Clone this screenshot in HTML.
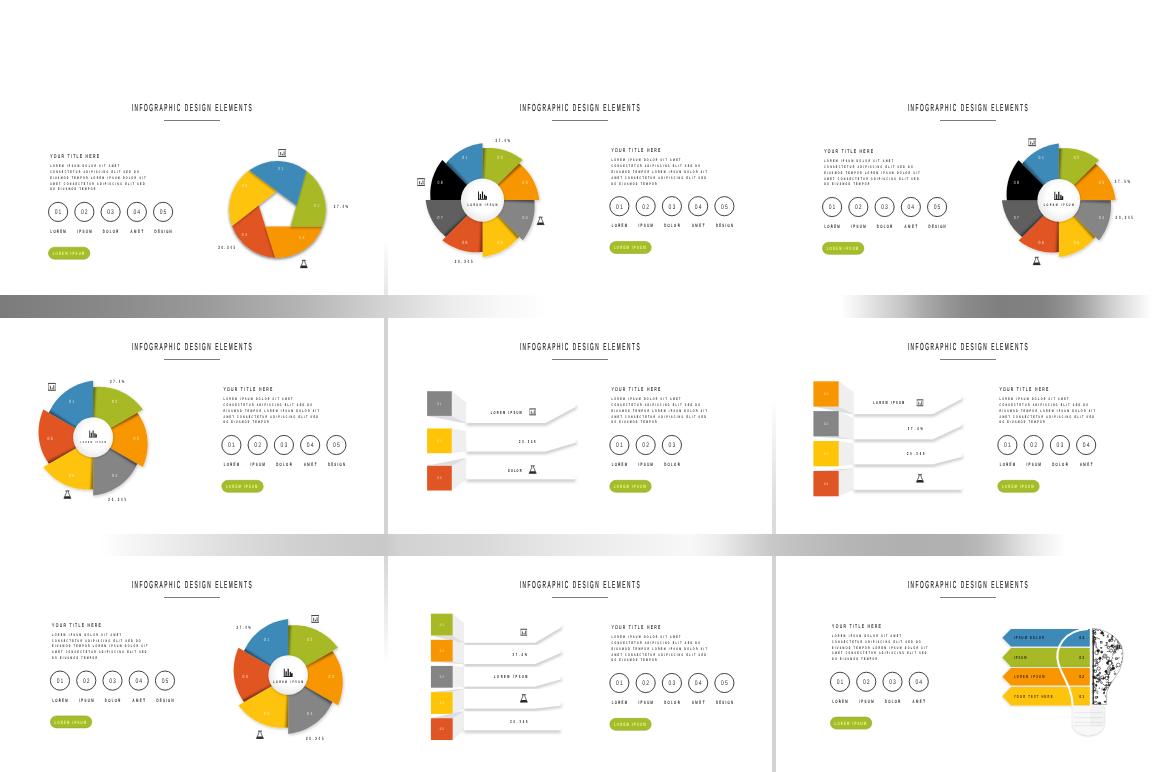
<!DOCTYPE html><html><head><meta charset="utf-8"><style>
html,body{margin:0;padding:0;background:#fff;width:1160px;height:772px;overflow:hidden;}
.band{position:absolute;left:0;width:1160px;}
.v{position:absolute;width:4px;}
svg.s{position:absolute;overflow:visible;font-family:'Liberation Sans', Arial, sans-serif;text-rendering:geometricPrecision;}
</style></head><body>
<div class="band" style="top:295px;height:23px;background:linear-gradient(90deg, #7b7b7b 0px, #888 100px, #999 200px, #b4b4b4 300px, #d4d4d4 384px, #ececec 450px, #f8f8f8 500px, #fff 550px, #fff 840px, #f0f0f0 858px, #dadada 880px, #c6c6c6 901px, #adadad 922px, #999 944px, #8a8a8a 965px, #7f7f7f 1000px, #828282 1043px, #959595 1070px, #a9a9a9 1086px, #d3d3d3 1114px, #f5f5f5 1143px, #fff 1152px)"></div>
<div class="band" style="top:534px;height:22px;background:linear-gradient(90deg, #fff 100px, #f6f6f6 130px, #ececec 170px, #e2e2e2 210px, #d9d9d9 250px, #d0d0d0 300px, #cbcbcb 350px, #c9c9c9 384px, #d2d2d2 400px, #d9d9d9 480px, #e8e8e8 560px, #f3f3f3 650px, #f8f8f8 690px, #ececec 720px, #d6d6d6 750px, #c8c8c8 772px, #c0c0c0 800px, #b5b5b5 850px, #b0b0b0 900px, #b1b1b1 960px, #b9b9b9 980px, #c9c9c9 1000px, #dedede 1020px, #efefef 1040px, #fbfbfb 1060px, #fff 1066px)"></div>
<div class="v" style="left:384px;top:238px;height:57px;background:linear-gradient(#fff,#e6e6e6)"></div>
<div class="v" style="left:384px;top:318px;height:216px;background:#d3d3d3"></div>
<div class="v" style="left:384px;top:556px;height:110px;background:linear-gradient(#d6d6d6,#fff)"></div>
<div class="v" style="left:772px;top:398px;height:136px;background:linear-gradient(#fff,#e0e0e0 70%,#dadada)"></div>
<div class="v" style="left:772px;top:556px;height:216px;background:#d3d3d3"></div>
<svg width="0" height="0" style="position:absolute"><defs>
<filter id="sh" x="-20%" y="-20%" width="140%" height="140%"><feDropShadow dx="0.8" dy="1.2" stdDeviation="1.4" flood-color="#000" flood-opacity="0.22"/></filter>
<filter id="sh2" x="-30%" y="-30%" width="160%" height="160%"><feDropShadow dx="0" dy="0.6" stdDeviation="1.2" flood-color="#000" flood-opacity="0.25"/></filter>
<filter id="sh3" x="-20%" y="-20%" width="140%" height="140%"><feDropShadow dx="-0.3" dy="1.2" stdDeviation="1.0" flood-color="#000" flood-opacity="0.38"/></filter>
<filter id="sh4" x="-20%" y="-20%" width="140%" height="140%"><feDropShadow dx="-0.8" dy="0.7" stdDeviation="1.1" flood-color="#000" flood-opacity="0.16"/></filter>
<filter id="bl1" x="-20%" y="-20%" width="140%" height="140%"><feGaussianBlur stdDeviation="0.9"/></filter>
<filter id="blur2" filterUnits="userSpaceOnUse" x="-50" y="-50" width="500" height="320"><feGaussianBlur stdDeviation="1.6"/></filter>
<radialGradient id="wg" cx="0.55" cy="0.45" r="0.6"><stop offset="0.55" stop-color="#fff"/><stop offset="1" stop-color="#e6e6e6"/></radialGradient>
</defs></svg>
<svg class="s" style="left:0px;top:79px" width="384" height="216" viewBox="0 0 384 216"><text transform="translate(191.7 32) scale(0.47 1)" font-size="10.17" fill="#1e1e1e" text-anchor="middle" font-weight="normal" textLength="255.32" lengthAdjust="spacing" stroke="#1e1e1e" stroke-width="0.22">INFOGRAPHIC DESIGN ELEMENTS</text>
<rect x="164" y="41" width="56" height="1" fill="#7a7a7a"/>
<text transform="translate(50.2 78.95) scale(0.62 1)" font-size="5.52" fill="#222" text-anchor="start" font-weight="normal" textLength="78.71" lengthAdjust="spacing" stroke="#222" stroke-width="0.1">YOUR TITLE HERE</text>
<text transform="translate(50.2 88.15) scale(0.6 1)" font-size="3.63" fill="#222" text-anchor="start" font-weight="bold" textLength="114.67" lengthAdjust="spacing">LOREM IPSUM DOLOR SIT AMET</text>
<text transform="translate(50.2 93.95) scale(0.6 1)" font-size="3.63" fill="#222" text-anchor="start" font-weight="bold" textLength="147.33" lengthAdjust="spacing">CONSECTETUR ADIPISCING ELIT SED DO</text>
<text transform="translate(50.2 99.75) scale(0.6 1)" font-size="3.63" fill="#222" text-anchor="start" font-weight="bold" textLength="158.83" lengthAdjust="spacing">EIUSMOD TEMPOR LOREM IPSUM DOLOR SIT</text>
<text transform="translate(50.2 105.55) scale(0.6 1)" font-size="3.63" fill="#222" text-anchor="start" font-weight="bold" textLength="157.17" lengthAdjust="spacing">AMET CONSECTETUR ADIPISCING ELIT SED</text>
<text transform="translate(50.2 111.35) scale(0.6 1)" font-size="3.63" fill="#222" text-anchor="start" font-weight="bold" textLength="75.17" lengthAdjust="spacing">DO EIUSMOD TEMPOR</text>
<circle cx="58.1" cy="132.9" r="9.6" fill="none" stroke="#2e2e2e" stroke-width="0.9"/>
<text transform="translate(58.1 135.2) scale(0.75 1)" font-size="6.69" fill="#333" text-anchor="middle" font-weight="normal" textLength="8.8" lengthAdjust="spacing">01</text>
<text transform="translate(58.1 154.1) scale(0.6 1)" font-size="4.65" fill="#222" text-anchor="middle" font-weight="normal" textLength="25.33" lengthAdjust="spacing" stroke="#222" stroke-width="0.15">LOREM</text>
<circle cx="84.35" cy="132.9" r="9.6" fill="none" stroke="#2e2e2e" stroke-width="0.9"/>
<text transform="translate(84.35 135.2) scale(0.75 1)" font-size="6.69" fill="#333" text-anchor="middle" font-weight="normal" textLength="8.8" lengthAdjust="spacing">02</text>
<text transform="translate(84.35 154.1) scale(0.6 1)" font-size="4.65" fill="#222" text-anchor="middle" font-weight="normal" textLength="24.17" lengthAdjust="spacing" stroke="#222" stroke-width="0.15">IPSUM</text>
<circle cx="110.6" cy="132.9" r="9.6" fill="none" stroke="#2e2e2e" stroke-width="0.9"/>
<text transform="translate(110.6 135.2) scale(0.75 1)" font-size="6.69" fill="#333" text-anchor="middle" font-weight="normal" textLength="8.8" lengthAdjust="spacing">03</text>
<text transform="translate(110.6 154.1) scale(0.6 1)" font-size="4.65" fill="#222" text-anchor="middle" font-weight="normal" textLength="25.83" lengthAdjust="spacing" stroke="#222" stroke-width="0.15">DOLOR</text>
<circle cx="136.85" cy="132.9" r="9.6" fill="none" stroke="#2e2e2e" stroke-width="0.9"/>
<text transform="translate(136.85 135.2) scale(0.75 1)" font-size="6.69" fill="#333" text-anchor="middle" font-weight="normal" textLength="8.8" lengthAdjust="spacing">04</text>
<text transform="translate(136.85 154.1) scale(0.6 1)" font-size="4.65" fill="#222" text-anchor="middle" font-weight="normal" textLength="20.83" lengthAdjust="spacing" stroke="#222" stroke-width="0.15">AMET</text>
<circle cx="163.1" cy="132.9" r="9.6" fill="none" stroke="#2e2e2e" stroke-width="0.9"/>
<text transform="translate(163.1 135.2) scale(0.75 1)" font-size="6.69" fill="#333" text-anchor="middle" font-weight="normal" textLength="8.8" lengthAdjust="spacing">05</text>
<text transform="translate(163.1 154.1) scale(0.6 1)" font-size="4.65" fill="#222" text-anchor="middle" font-weight="normal" textLength="28.33" lengthAdjust="spacing" stroke="#222" stroke-width="0.15">DESIGN</text>
<rect x="48.5" y="168.2" width="41.4" height="12" rx="6" fill="#a5bc2c" stroke="#97ab26" stroke-width="0.6"/>
<text transform="translate(68.4 175.8) scale(0.6 1)" font-size="4.65" fill="#f3fb8c" text-anchor="middle" font-weight="bold" textLength="52.5" lengthAdjust="spacing">LOREM IPSUM</text>
<g filter="url(#sh)">
<path d="M265.4 147.6 L275.27 178.65 A48.3 48.3 0 0 1 232.14 146.99 L258.6 126.2 Z" fill="#e05524" filter="url(#sh3)"/>
<path d="M290.6 147.6 L322.63 147.6 A48.3 48.3 0 0 1 275.27 178.65 L265.4 147.6 Z" fill="#f79600" filter="url(#sh3)"/>
<path d="M258.6 126.2 L232.14 146.99 A48.3 48.3 0 0 1 249.17 91.28 L276.8 111.9 Z" fill="#fec408" filter="url(#sh3)"/>
<path d="M296.5 126.6 L306.32 91.64 A48.3 48.3 0 0 1 322.63 147.6 L290.6 147.6 Z" fill="#a8b925" filter="url(#sh3)"/>
<path d="M276.8 111.9 L249.17 91.28 A48.3 48.3 0 0 1 306.32 91.64 L296.5 126.6 Z" fill="#3d8ab9" filter="url(#sh3)"/>
</g>
<text transform="translate(280.7 91) scale(0.75 1)" font-size="4.36" fill="#fff" fill-opacity="0.75" text-anchor="middle" font-weight="normal" textLength="7.2" lengthAdjust="spacing">01</text>
<text transform="translate(316.7 128.2) scale(0.75 1)" font-size="4.36" fill="#fff" fill-opacity="0.75" text-anchor="middle" font-weight="normal" textLength="7.2" lengthAdjust="spacing">02</text>
<text transform="translate(301.6 159.9) scale(0.75 1)" font-size="4.36" fill="#fff" fill-opacity="0.75" text-anchor="middle" font-weight="normal" textLength="7.2" lengthAdjust="spacing">03</text>
<text transform="translate(244.5 157.2) scale(0.75 1)" font-size="4.36" fill="#fff" fill-opacity="0.75" text-anchor="middle" font-weight="normal" textLength="7.2" lengthAdjust="spacing">04</text>
<text transform="translate(244.5 108.2) scale(0.75 1)" font-size="4.36" fill="#fff" fill-opacity="0.75" text-anchor="middle" font-weight="normal" textLength="7.2" lengthAdjust="spacing">05</text>
<text transform="translate(333.8 128.6) scale(0.6 1)" font-size="4.65" fill="#333" text-anchor="start" font-weight="bold" textLength="23.67" lengthAdjust="spacing">37.4%</text>
<text transform="translate(218.2 170) scale(0.6 1)" font-size="4.65" fill="#333" text-anchor="start" font-weight="bold" textLength="28" lengthAdjust="spacing">20.345</text>
<g transform="translate(282.2 74) scale(1)"><rect x="-3.4" y="-3.4" width="6.8" height="6.8" fill="#fff" stroke="#8a8a8a" stroke-width="0.75"/><path d="M-3.75 -3.4 H3.75 M-3.75 3.4 H3.75" stroke="#2e2e2e" stroke-width="0.8"/><path d="M-1.5 -1.0 V2.3 M0.3 0.8 V2.3 M1.9 -1.6 V2.3" stroke="#333" stroke-width="0.85" fill="none"/></g>
<g transform="translate(303.8 185) scale(1)"><path d="M-1.9 -3.7 H1.9" stroke="#2a2a2a" stroke-width="0.9"/><path d="M-1.0 -3.4 V-1.9 L-3.5 3.7 H3.5 L1.0 -1.9 V-3.4" stroke="#2a2a2a" stroke-width="0.7" fill="none" stroke-linejoin="round"/><path d="M-2.5 1.6 H2.5 L3.6 3.95 H-3.6 Z" fill="#2a2a2a"/></g></svg>
<svg class="s" style="left:388px;top:79px" width="384" height="216" viewBox="0 0 384 216"><text transform="translate(191.7 32) scale(0.47 1)" font-size="10.17" fill="#1e1e1e" text-anchor="middle" font-weight="normal" textLength="255.32" lengthAdjust="spacing" stroke="#1e1e1e" stroke-width="0.22">INFOGRAPHIC DESIGN ELEMENTS</text>
<rect x="164" y="41" width="56" height="1" fill="#7a7a7a"/>
<text transform="translate(223.5 73.25) scale(0.62 1)" font-size="5.52" fill="#222" text-anchor="start" font-weight="normal" textLength="78.71" lengthAdjust="spacing" stroke="#222" stroke-width="0.1">YOUR TITLE HERE</text>
<text transform="translate(223.5 82.45) scale(0.6 1)" font-size="3.63" fill="#222" text-anchor="start" font-weight="bold" textLength="114.67" lengthAdjust="spacing">LOREM IPSUM DOLOR SIT AMET</text>
<text transform="translate(223.5 88.25) scale(0.6 1)" font-size="3.63" fill="#222" text-anchor="start" font-weight="bold" textLength="147.33" lengthAdjust="spacing">CONSECTETUR ADIPISCING ELIT SED DO</text>
<text transform="translate(223.5 94.05) scale(0.6 1)" font-size="3.63" fill="#222" text-anchor="start" font-weight="bold" textLength="158.83" lengthAdjust="spacing">EIUSMOD TEMPOR LOREM IPSUM DOLOR SIT</text>
<text transform="translate(223.5 99.85) scale(0.6 1)" font-size="3.63" fill="#222" text-anchor="start" font-weight="bold" textLength="157.17" lengthAdjust="spacing">AMET CONSECTETUR ADIPISCING ELIT SED</text>
<text transform="translate(223.5 105.65) scale(0.6 1)" font-size="3.63" fill="#222" text-anchor="start" font-weight="bold" textLength="75.17" lengthAdjust="spacing">DO EIUSMOD TEMPOR</text>
<circle cx="231.4" cy="127.2" r="9.6" fill="none" stroke="#2e2e2e" stroke-width="0.9"/>
<text transform="translate(231.4 129.5) scale(0.75 1)" font-size="6.69" fill="#333" text-anchor="middle" font-weight="normal" textLength="8.8" lengthAdjust="spacing">01</text>
<text transform="translate(231.4 148.4) scale(0.6 1)" font-size="4.65" fill="#222" text-anchor="middle" font-weight="normal" textLength="25.33" lengthAdjust="spacing" stroke="#222" stroke-width="0.15">LOREM</text>
<circle cx="257.65" cy="127.2" r="9.6" fill="none" stroke="#2e2e2e" stroke-width="0.9"/>
<text transform="translate(257.65 129.5) scale(0.75 1)" font-size="6.69" fill="#333" text-anchor="middle" font-weight="normal" textLength="8.8" lengthAdjust="spacing">02</text>
<text transform="translate(257.65 148.4) scale(0.6 1)" font-size="4.65" fill="#222" text-anchor="middle" font-weight="normal" textLength="24.17" lengthAdjust="spacing" stroke="#222" stroke-width="0.15">IPSUM</text>
<circle cx="283.9" cy="127.2" r="9.6" fill="none" stroke="#2e2e2e" stroke-width="0.9"/>
<text transform="translate(283.9 129.5) scale(0.75 1)" font-size="6.69" fill="#333" text-anchor="middle" font-weight="normal" textLength="8.8" lengthAdjust="spacing">03</text>
<text transform="translate(283.9 148.4) scale(0.6 1)" font-size="4.65" fill="#222" text-anchor="middle" font-weight="normal" textLength="25.83" lengthAdjust="spacing" stroke="#222" stroke-width="0.15">DOLOR</text>
<circle cx="310.15" cy="127.2" r="9.6" fill="none" stroke="#2e2e2e" stroke-width="0.9"/>
<text transform="translate(310.15 129.5) scale(0.75 1)" font-size="6.69" fill="#333" text-anchor="middle" font-weight="normal" textLength="8.8" lengthAdjust="spacing">04</text>
<text transform="translate(310.15 148.4) scale(0.6 1)" font-size="4.65" fill="#222" text-anchor="middle" font-weight="normal" textLength="20.83" lengthAdjust="spacing" stroke="#222" stroke-width="0.15">AMET</text>
<circle cx="336.4" cy="127.2" r="9.6" fill="none" stroke="#2e2e2e" stroke-width="0.9"/>
<text transform="translate(336.4 129.5) scale(0.75 1)" font-size="6.69" fill="#333" text-anchor="middle" font-weight="normal" textLength="8.8" lengthAdjust="spacing">05</text>
<text transform="translate(336.4 148.4) scale(0.6 1)" font-size="4.65" fill="#222" text-anchor="middle" font-weight="normal" textLength="28.33" lengthAdjust="spacing" stroke="#222" stroke-width="0.15">DESIGN</text>
<rect x="221.8" y="162.5" width="41.4" height="12" rx="6" fill="#a5bc2c" stroke="#97ab26" stroke-width="0.6"/>
<text transform="translate(241.7 170.1) scale(0.6 1)" font-size="4.65" fill="#f3fb8c" text-anchor="middle" font-weight="bold" textLength="52.5" lengthAdjust="spacing">LOREM IPSUM</text>
<g filter="url(#sh)">
<path d="M94.5 121.1 L94.5 69.3 L96.2 69.12 L97.92 69 L99.64 68.93 L101.37 68.92 L103.11 68.96 L104.85 69.07 L106.59 69.23 L108.34 69.46 L110.08 69.74 L111.82 70.08 L113.55 70.48 L115.28 70.93 L117 71.45 L118.7 72.03 L120.39 72.66 L122.07 73.35 L123.72 74.1 L125.36 74.91 L126.98 75.78 L128.57 76.7 L130.14 77.68 L131.68 78.71 L133.19 79.8 L134.66 80.94 Z" fill="#a8b925"/>
<path d="M94.5 121.1 L131.13 84.47 L132.46 85.55 L133.76 86.67 L135.03 87.84 L136.26 89.06 L137.45 90.32 L138.61 91.63 L139.73 92.98 L140.8 94.37 L141.84 95.8 L142.83 97.27 L143.77 98.78 L144.67 100.32 L145.51 101.9 L146.31 103.51 L147.06 105.16 L147.75 106.83 L148.4 108.53 L148.98 110.26 L149.51 112.02 L149.99 113.79 L150.4 115.59 L150.76 117.41 L151.06 119.25 L151.3 121.1 Z" fill="#f79600"/>
<path d="M94.5 121.1 L146.3 121.1 L146.48 122.8 L146.6 124.52 L146.67 126.24 L146.68 127.97 L146.64 129.71 L146.53 131.45 L146.37 133.19 L146.14 134.94 L145.86 136.68 L145.52 138.42 L145.12 140.15 L144.67 141.88 L144.15 143.6 L143.57 145.3 L142.94 146.99 L142.25 148.67 L141.5 150.32 L140.69 151.96 L139.82 153.58 L138.9 155.17 L137.92 156.74 L136.89 158.28 L135.8 159.79 L134.66 161.26 Z" fill="#858585"/>
<path d="M94.5 121.1 L131.13 157.73 L130.05 159.06 L128.93 160.36 L127.76 161.63 L126.54 162.86 L125.28 164.05 L123.97 165.21 L122.62 166.33 L121.23 167.4 L119.8 168.44 L118.33 169.43 L116.82 170.37 L115.28 171.27 L113.7 172.11 L112.09 172.91 L110.44 173.66 L108.77 174.35 L107.07 175 L105.34 175.58 L103.58 176.11 L101.81 176.59 L100.01 177 L98.19 177.36 L96.35 177.66 L94.5 177.9 Z" fill="#fec408"/>
<path d="M94.5 121.1 L94.5 172.9 L92.8 173.08 L91.08 173.2 L89.36 173.27 L87.63 173.28 L85.89 173.24 L84.15 173.13 L82.41 172.97 L80.66 172.74 L78.92 172.46 L77.18 172.12 L75.45 171.72 L73.72 171.27 L72 170.75 L70.3 170.17 L68.61 169.54 L66.93 168.85 L65.28 168.1 L63.64 167.29 L62.02 166.42 L60.43 165.5 L58.86 164.52 L57.32 163.49 L55.81 162.4 L54.34 161.26 Z" fill="#e05524"/>
<path d="M94.5 121.1 L57.87 157.73 L56.54 156.65 L55.24 155.53 L53.97 154.36 L52.74 153.14 L51.55 151.88 L50.39 150.57 L49.27 149.22 L48.2 147.83 L47.16 146.4 L46.17 144.93 L45.23 143.42 L44.33 141.88 L43.49 140.3 L42.69 138.69 L41.94 137.04 L41.25 135.37 L40.6 133.67 L40.02 131.94 L39.49 130.18 L39.01 128.41 L38.6 126.61 L38.24 124.79 L37.94 122.95 L37.7 121.1 Z" fill="#5f5f5f"/>
<path d="M94.5 121.1 L42.7 121.1 L42.52 119.4 L42.4 117.68 L42.33 115.96 L42.32 114.23 L42.36 112.49 L42.47 110.75 L42.63 109.01 L42.86 107.26 L43.14 105.52 L43.48 103.78 L43.88 102.05 L44.33 100.32 L44.85 98.6 L45.43 96.9 L46.06 95.21 L46.75 93.53 L47.5 91.88 L48.31 90.24 L49.18 88.62 L50.1 87.03 L51.08 85.46 L52.11 83.92 L53.2 82.41 L54.34 80.94 Z" fill="#060606"/>
<path d="M94.5 121.1 L57.87 84.47 L58.95 83.14 L60.07 81.84 L61.24 80.57 L62.46 79.34 L63.72 78.15 L65.03 76.99 L66.38 75.87 L67.77 74.8 L69.2 73.76 L70.67 72.77 L72.18 71.83 L73.72 70.93 L75.3 70.09 L76.91 69.29 L78.56 68.54 L80.23 67.85 L81.93 67.2 L83.66 66.62 L85.42 66.09 L87.19 65.61 L88.99 65.2 L90.81 64.84 L92.65 64.54 L94.5 64.3 Z" fill="#3d8ab9"/>
</g>
<clipPath id="rc1"><path d="M94.5 121.1 L94.5 69.3 L96.2 69.12 L97.92 69 L99.64 68.93 L101.37 68.92 L103.11 68.96 L104.85 69.07 L106.59 69.23 L108.34 69.46 L110.08 69.74 L111.82 70.08 L113.55 70.48 L115.28 70.93 L117 71.45 L118.7 72.03 L120.39 72.66 L122.07 73.35 L123.72 74.1 L125.36 74.91 L126.98 75.78 L128.57 76.7 L130.14 77.68 L131.68 78.71 L133.19 79.8 L134.66 80.94 Z"/></clipPath>
<clipPath id="rc2"><path d="M94.5 121.1 L131.13 84.47 L132.46 85.55 L133.76 86.67 L135.03 87.84 L136.26 89.06 L137.45 90.32 L138.61 91.63 L139.73 92.98 L140.8 94.37 L141.84 95.8 L142.83 97.27 L143.77 98.78 L144.67 100.32 L145.51 101.9 L146.31 103.51 L147.06 105.16 L147.75 106.83 L148.4 108.53 L148.98 110.26 L149.51 112.02 L149.99 113.79 L150.4 115.59 L150.76 117.41 L151.06 119.25 L151.3 121.1 Z"/></clipPath>
<clipPath id="rc3"><path d="M94.5 121.1 L146.3 121.1 L146.48 122.8 L146.6 124.52 L146.67 126.24 L146.68 127.97 L146.64 129.71 L146.53 131.45 L146.37 133.19 L146.14 134.94 L145.86 136.68 L145.52 138.42 L145.12 140.15 L144.67 141.88 L144.15 143.6 L143.57 145.3 L142.94 146.99 L142.25 148.67 L141.5 150.32 L140.69 151.96 L139.82 153.58 L138.9 155.17 L137.92 156.74 L136.89 158.28 L135.8 159.79 L134.66 161.26 Z"/></clipPath>
<clipPath id="rc4"><path d="M94.5 121.1 L131.13 157.73 L130.05 159.06 L128.93 160.36 L127.76 161.63 L126.54 162.86 L125.28 164.05 L123.97 165.21 L122.62 166.33 L121.23 167.4 L119.8 168.44 L118.33 169.43 L116.82 170.37 L115.28 171.27 L113.7 172.11 L112.09 172.91 L110.44 173.66 L108.77 174.35 L107.07 175 L105.34 175.58 L103.58 176.11 L101.81 176.59 L100.01 177 L98.19 177.36 L96.35 177.66 L94.5 177.9 Z"/></clipPath>
<clipPath id="rc5"><path d="M94.5 121.1 L94.5 172.9 L92.8 173.08 L91.08 173.2 L89.36 173.27 L87.63 173.28 L85.89 173.24 L84.15 173.13 L82.41 172.97 L80.66 172.74 L78.92 172.46 L77.18 172.12 L75.45 171.72 L73.72 171.27 L72 170.75 L70.3 170.17 L68.61 169.54 L66.93 168.85 L65.28 168.1 L63.64 167.29 L62.02 166.42 L60.43 165.5 L58.86 164.52 L57.32 163.49 L55.81 162.4 L54.34 161.26 Z"/></clipPath>
<clipPath id="rc6"><path d="M94.5 121.1 L57.87 157.73 L56.54 156.65 L55.24 155.53 L53.97 154.36 L52.74 153.14 L51.55 151.88 L50.39 150.57 L49.27 149.22 L48.2 147.83 L47.16 146.4 L46.17 144.93 L45.23 143.42 L44.33 141.88 L43.49 140.3 L42.69 138.69 L41.94 137.04 L41.25 135.37 L40.6 133.67 L40.02 131.94 L39.49 130.18 L39.01 128.41 L38.6 126.61 L38.24 124.79 L37.94 122.95 L37.7 121.1 Z"/></clipPath>
<clipPath id="rc7"><path d="M94.5 121.1 L42.7 121.1 L42.52 119.4 L42.4 117.68 L42.33 115.96 L42.32 114.23 L42.36 112.49 L42.47 110.75 L42.63 109.01 L42.86 107.26 L43.14 105.52 L43.48 103.78 L43.88 102.05 L44.33 100.32 L44.85 98.6 L45.43 96.9 L46.06 95.21 L46.75 93.53 L47.5 91.88 L48.31 90.24 L49.18 88.62 L50.1 87.03 L51.08 85.46 L52.11 83.92 L53.2 82.41 L54.34 80.94 Z"/></clipPath>
<clipPath id="rc8"><path d="M94.5 121.1 L57.87 84.47 L58.95 83.14 L60.07 81.84 L61.24 80.57 L62.46 79.34 L63.72 78.15 L65.03 76.99 L66.38 75.87 L67.77 74.8 L69.2 73.76 L70.67 72.77 L72.18 71.83 L73.72 70.93 L75.3 70.09 L76.91 69.29 L78.56 68.54 L80.23 67.85 L81.93 67.2 L83.66 66.62 L85.42 66.09 L87.19 65.61 L88.99 65.2 L90.81 64.84 L92.65 64.54 L94.5 64.3 Z"/></clipPath>
<g clip-path="url(#rc2)"><path d="M94.5 121.1 L94.5 69.3 L96.2 69.12 L97.92 69 L99.64 68.93 L101.37 68.92 L103.11 68.96 L104.85 69.07 L106.59 69.23 L108.34 69.46 L110.08 69.74 L111.82 70.08 L113.55 70.48 L115.28 70.93 L117 71.45 L118.7 72.03 L120.39 72.66 L122.07 73.35 L123.72 74.1 L125.36 74.91 L126.98 75.78 L128.57 76.7 L130.14 77.68 L131.68 78.71 L133.19 79.8 L134.66 80.94 Z" fill="#000" fill-opacity="0.45" filter="url(#bl1)" transform="rotate(2.8 94.5 121.1)"/></g>
<g clip-path="url(#rc3)"><path d="M94.5 121.1 L131.13 84.47 L132.46 85.55 L133.76 86.67 L135.03 87.84 L136.26 89.06 L137.45 90.32 L138.61 91.63 L139.73 92.98 L140.8 94.37 L141.84 95.8 L142.83 97.27 L143.77 98.78 L144.67 100.32 L145.51 101.9 L146.31 103.51 L147.06 105.16 L147.75 106.83 L148.4 108.53 L148.98 110.26 L149.51 112.02 L149.99 113.79 L150.4 115.59 L150.76 117.41 L151.06 119.25 L151.3 121.1 Z" fill="#000" fill-opacity="0.45" filter="url(#bl1)" transform="rotate(2.8 94.5 121.1)"/></g>
<g clip-path="url(#rc4)"><path d="M94.5 121.1 L146.3 121.1 L146.48 122.8 L146.6 124.52 L146.67 126.24 L146.68 127.97 L146.64 129.71 L146.53 131.45 L146.37 133.19 L146.14 134.94 L145.86 136.68 L145.52 138.42 L145.12 140.15 L144.67 141.88 L144.15 143.6 L143.57 145.3 L142.94 146.99 L142.25 148.67 L141.5 150.32 L140.69 151.96 L139.82 153.58 L138.9 155.17 L137.92 156.74 L136.89 158.28 L135.8 159.79 L134.66 161.26 Z" fill="#000" fill-opacity="0.45" filter="url(#bl1)" transform="rotate(2.8 94.5 121.1)"/></g>
<g clip-path="url(#rc5)"><path d="M94.5 121.1 L131.13 157.73 L130.05 159.06 L128.93 160.36 L127.76 161.63 L126.54 162.86 L125.28 164.05 L123.97 165.21 L122.62 166.33 L121.23 167.4 L119.8 168.44 L118.33 169.43 L116.82 170.37 L115.28 171.27 L113.7 172.11 L112.09 172.91 L110.44 173.66 L108.77 174.35 L107.07 175 L105.34 175.58 L103.58 176.11 L101.81 176.59 L100.01 177 L98.19 177.36 L96.35 177.66 L94.5 177.9 Z" fill="#000" fill-opacity="0.45" filter="url(#bl1)" transform="rotate(2.8 94.5 121.1)"/></g>
<g clip-path="url(#rc6)"><path d="M94.5 121.1 L94.5 172.9 L92.8 173.08 L91.08 173.2 L89.36 173.27 L87.63 173.28 L85.89 173.24 L84.15 173.13 L82.41 172.97 L80.66 172.74 L78.92 172.46 L77.18 172.12 L75.45 171.72 L73.72 171.27 L72 170.75 L70.3 170.17 L68.61 169.54 L66.93 168.85 L65.28 168.1 L63.64 167.29 L62.02 166.42 L60.43 165.5 L58.86 164.52 L57.32 163.49 L55.81 162.4 L54.34 161.26 Z" fill="#000" fill-opacity="0.45" filter="url(#bl1)" transform="rotate(2.8 94.5 121.1)"/></g>
<g clip-path="url(#rc7)"><path d="M94.5 121.1 L57.87 157.73 L56.54 156.65 L55.24 155.53 L53.97 154.36 L52.74 153.14 L51.55 151.88 L50.39 150.57 L49.27 149.22 L48.2 147.83 L47.16 146.4 L46.17 144.93 L45.23 143.42 L44.33 141.88 L43.49 140.3 L42.69 138.69 L41.94 137.04 L41.25 135.37 L40.6 133.67 L40.02 131.94 L39.49 130.18 L39.01 128.41 L38.6 126.61 L38.24 124.79 L37.94 122.95 L37.7 121.1 Z" fill="#000" fill-opacity="0.45" filter="url(#bl1)" transform="rotate(2.8 94.5 121.1)"/></g>
<g clip-path="url(#rc8)"><path d="M94.5 121.1 L42.7 121.1 L42.52 119.4 L42.4 117.68 L42.33 115.96 L42.32 114.23 L42.36 112.49 L42.47 110.75 L42.63 109.01 L42.86 107.26 L43.14 105.52 L43.48 103.78 L43.88 102.05 L44.33 100.32 L44.85 98.6 L45.43 96.9 L46.06 95.21 L46.75 93.53 L47.5 91.88 L48.31 90.24 L49.18 88.62 L50.1 87.03 L51.08 85.46 L52.11 83.92 L53.2 82.41 L54.34 80.94 Z" fill="#000" fill-opacity="0.45" filter="url(#bl1)" transform="rotate(2.8 94.5 121.1)"/></g>
<g clip-path="url(#rc1)"><path d="M94.5 121.1 L57.87 84.47 L58.95 83.14 L60.07 81.84 L61.24 80.57 L62.46 79.34 L63.72 78.15 L65.03 76.99 L66.38 75.87 L67.77 74.8 L69.2 73.76 L70.67 72.77 L72.18 71.83 L73.72 70.93 L75.3 70.09 L76.91 69.29 L78.56 68.54 L80.23 67.85 L81.93 67.2 L83.66 66.62 L85.42 66.09 L87.19 65.61 L88.99 65.2 L90.81 64.84 L92.65 64.54 L94.5 64.3 Z" fill="#000" fill-opacity="0.45" filter="url(#bl1)" transform="rotate(2.8 94.5 121.1)"/></g>
<text transform="translate(112.1 80.15) scale(0.75 1)" font-size="4.51" fill="#fff" fill-opacity="0.8" text-anchor="middle" font-weight="normal" textLength="6.93" lengthAdjust="spacing">02</text>
<text transform="translate(137 105.05) scale(0.75 1)" font-size="4.51" fill="#fff" fill-opacity="0.8" text-anchor="middle" font-weight="normal" textLength="6.93" lengthAdjust="spacing">03</text>
<text transform="translate(137 140.25) scale(0.75 1)" font-size="4.51" fill="#fff" fill-opacity="0.8" text-anchor="middle" font-weight="normal" textLength="6.93" lengthAdjust="spacing">04</text>
<text transform="translate(112.1 165.15) scale(0.75 1)" font-size="4.51" fill="#fff" fill-opacity="0.8" text-anchor="middle" font-weight="normal" textLength="6.93" lengthAdjust="spacing">05</text>
<text transform="translate(76.9 165.15) scale(0.75 1)" font-size="4.51" fill="#fff" fill-opacity="0.8" text-anchor="middle" font-weight="normal" textLength="6.93" lengthAdjust="spacing">06</text>
<text transform="translate(52 140.25) scale(0.75 1)" font-size="4.51" fill="#fff" fill-opacity="0.8" text-anchor="middle" font-weight="normal" textLength="6.93" lengthAdjust="spacing">07</text>
<text transform="translate(52 105.05) scale(0.75 1)" font-size="4.51" fill="#fff" fill-opacity="0.8" text-anchor="middle" font-weight="normal" textLength="6.93" lengthAdjust="spacing">08</text>
<text transform="translate(76.9 80.15) scale(0.75 1)" font-size="4.51" fill="#fff" fill-opacity="0.8" text-anchor="middle" font-weight="normal" textLength="6.93" lengthAdjust="spacing">01</text>
<circle cx="94.5" cy="121.1" r="21.6" fill="url(#wg)" filter="url(#sh2)"/>
<g transform="translate(94.5 116.6) scale(1)" fill="#111"><rect x="-4.4" y="-4.1" width="0.9" height="8.2"/><rect x="-4.4" y="3.2" width="8.8" height="0.9"/><rect x="-2.7" y="-1.5" width="1.2" height="4.8"/><rect x="-0.6" y="-4.1" width="1.2" height="7.3"/><rect x="1.5" y="-1" width="1.2" height="4.3"/><rect x="2.8" y="0.4" width="1.6" height="2.9"/></g>
<text transform="translate(94.5 126.7) scale(0.6 1)" font-size="3.78" fill="#1a1a1a" text-anchor="middle" font-weight="bold" textLength="50" lengthAdjust="spacing">LOREM IPSUM</text>
<text transform="translate(107.5 63.3) scale(0.6 1)" font-size="4.65" fill="#333" text-anchor="start" font-weight="bold" textLength="24.17" lengthAdjust="spacing">37.4%</text>
<text transform="translate(66.7 184.1) scale(0.6 1)" font-size="4.65" fill="#333" text-anchor="start" font-weight="bold" textLength="29.83" lengthAdjust="spacing">20.345</text>
<g transform="translate(33.1 103.1) scale(1)"><rect x="-3.4" y="-3.4" width="6.8" height="6.8" fill="#fff" stroke="#8a8a8a" stroke-width="0.75"/><path d="M-3.75 -3.4 H3.75 M-3.75 3.4 H3.75" stroke="#2e2e2e" stroke-width="0.8"/><path d="M-1.5 -1.0 V2.3 M0.3 0.8 V2.3 M1.9 -1.6 V2.3" stroke="#333" stroke-width="0.85" fill="none"/></g>
<g transform="translate(152.6 141.9) scale(1)"><path d="M-1.9 -3.7 H1.9" stroke="#2a2a2a" stroke-width="0.9"/><path d="M-1.0 -3.4 V-1.9 L-3.5 3.7 H3.5 L1.0 -1.9 V-3.4" stroke="#2a2a2a" stroke-width="0.7" fill="none" stroke-linejoin="round"/><path d="M-2.5 1.6 H2.5 L3.6 3.95 H-3.6 Z" fill="#2a2a2a"/></g></svg>
<svg class="s" style="left:776px;top:79px" width="384" height="216" viewBox="0 0 384 216"><text transform="translate(191.7 32) scale(0.47 1)" font-size="10.17" fill="#1e1e1e" text-anchor="middle" font-weight="normal" textLength="255.32" lengthAdjust="spacing" stroke="#1e1e1e" stroke-width="0.22">INFOGRAPHIC DESIGN ELEMENTS</text>
<rect x="164" y="41" width="56" height="1" fill="#7a7a7a"/>
<text transform="translate(48.2 74.05) scale(0.62 1)" font-size="5.52" fill="#222" text-anchor="start" font-weight="normal" textLength="78.71" lengthAdjust="spacing" stroke="#222" stroke-width="0.1">YOUR TITLE HERE</text>
<text transform="translate(48.2 83.25) scale(0.6 1)" font-size="3.63" fill="#222" text-anchor="start" font-weight="bold" textLength="114.67" lengthAdjust="spacing">LOREM IPSUM DOLOR SIT AMET</text>
<text transform="translate(48.2 89.05) scale(0.6 1)" font-size="3.63" fill="#222" text-anchor="start" font-weight="bold" textLength="147.33" lengthAdjust="spacing">CONSECTETUR ADIPISCING ELIT SED DO</text>
<text transform="translate(48.2 94.85) scale(0.6 1)" font-size="3.63" fill="#222" text-anchor="start" font-weight="bold" textLength="158.83" lengthAdjust="spacing">EIUSMOD TEMPOR LOREM IPSUM DOLOR SIT</text>
<text transform="translate(48.2 100.65) scale(0.6 1)" font-size="3.63" fill="#222" text-anchor="start" font-weight="bold" textLength="157.17" lengthAdjust="spacing">AMET CONSECTETUR ADIPISCING ELIT SED</text>
<text transform="translate(48.2 106.45) scale(0.6 1)" font-size="3.63" fill="#222" text-anchor="start" font-weight="bold" textLength="75.17" lengthAdjust="spacing">DO EIUSMOD TEMPOR</text>
<circle cx="56.1" cy="128" r="9.6" fill="none" stroke="#2e2e2e" stroke-width="0.9"/>
<text transform="translate(56.1 130.3) scale(0.75 1)" font-size="6.69" fill="#333" text-anchor="middle" font-weight="normal" textLength="8.8" lengthAdjust="spacing">01</text>
<text transform="translate(56.1 149.2) scale(0.6 1)" font-size="4.65" fill="#222" text-anchor="middle" font-weight="normal" textLength="25.33" lengthAdjust="spacing" stroke="#222" stroke-width="0.15">LOREM</text>
<circle cx="82.35" cy="128" r="9.6" fill="none" stroke="#2e2e2e" stroke-width="0.9"/>
<text transform="translate(82.35 130.3) scale(0.75 1)" font-size="6.69" fill="#333" text-anchor="middle" font-weight="normal" textLength="8.8" lengthAdjust="spacing">02</text>
<text transform="translate(82.35 149.2) scale(0.6 1)" font-size="4.65" fill="#222" text-anchor="middle" font-weight="normal" textLength="24.17" lengthAdjust="spacing" stroke="#222" stroke-width="0.15">IPSUM</text>
<circle cx="108.6" cy="128" r="9.6" fill="none" stroke="#2e2e2e" stroke-width="0.9"/>
<text transform="translate(108.6 130.3) scale(0.75 1)" font-size="6.69" fill="#333" text-anchor="middle" font-weight="normal" textLength="8.8" lengthAdjust="spacing">03</text>
<text transform="translate(108.6 149.2) scale(0.6 1)" font-size="4.65" fill="#222" text-anchor="middle" font-weight="normal" textLength="25.83" lengthAdjust="spacing" stroke="#222" stroke-width="0.15">DOLOR</text>
<circle cx="134.85" cy="128" r="9.6" fill="none" stroke="#2e2e2e" stroke-width="0.9"/>
<text transform="translate(134.85 130.3) scale(0.75 1)" font-size="6.69" fill="#333" text-anchor="middle" font-weight="normal" textLength="8.8" lengthAdjust="spacing">04</text>
<text transform="translate(134.85 149.2) scale(0.6 1)" font-size="4.65" fill="#222" text-anchor="middle" font-weight="normal" textLength="20.83" lengthAdjust="spacing" stroke="#222" stroke-width="0.15">AMET</text>
<circle cx="161.1" cy="128" r="9.6" fill="none" stroke="#2e2e2e" stroke-width="0.9"/>
<text transform="translate(161.1 130.3) scale(0.75 1)" font-size="6.69" fill="#333" text-anchor="middle" font-weight="normal" textLength="8.8" lengthAdjust="spacing">05</text>
<text transform="translate(161.1 149.2) scale(0.6 1)" font-size="4.65" fill="#222" text-anchor="middle" font-weight="normal" textLength="28.33" lengthAdjust="spacing" stroke="#222" stroke-width="0.15">DESIGN</text>
<rect x="46.5" y="163.3" width="41.4" height="12" rx="6" fill="#a5bc2c" stroke="#97ab26" stroke-width="0.6"/>
<text transform="translate(66.4 170.9) scale(0.6 1)" font-size="4.65" fill="#f3fb8c" text-anchor="middle" font-weight="bold" textLength="52.5" lengthAdjust="spacing">LOREM IPSUM</text>
<g filter="url(#sh)">
<path d="M282.8 121.3 L282.8 69.5 L284.5 69.32 L286.22 69.2 L287.94 69.13 L289.67 69.12 L291.41 69.16 L293.15 69.27 L294.89 69.43 L296.64 69.66 L298.38 69.94 L300.12 70.28 L301.85 70.68 L303.58 71.13 L305.3 71.65 L307 72.23 L308.69 72.86 L310.37 73.55 L312.02 74.3 L313.66 75.11 L315.28 75.98 L316.87 76.9 L318.44 77.88 L319.98 78.91 L321.49 80 L322.96 81.14 Z" fill="#a8b925"/>
<path d="M282.8 121.3 L319.43 84.67 L320.76 85.75 L322.06 86.87 L323.33 88.04 L324.56 89.26 L325.75 90.52 L326.91 91.83 L328.03 93.18 L329.1 94.57 L330.14 96 L331.13 97.47 L332.07 98.98 L332.97 100.52 L333.81 102.1 L334.61 103.71 L335.36 105.36 L336.05 107.03 L336.7 108.73 L337.28 110.46 L337.81 112.22 L338.29 113.99 L338.7 115.79 L339.06 117.61 L339.36 119.45 L339.6 121.3 Z" fill="#f79600"/>
<path d="M282.8 121.3 L334.6 121.3 L334.78 123 L334.9 124.72 L334.97 126.44 L334.98 128.17 L334.94 129.91 L334.83 131.65 L334.67 133.39 L334.44 135.14 L334.16 136.88 L333.82 138.62 L333.42 140.35 L332.97 142.08 L332.45 143.8 L331.87 145.5 L331.24 147.19 L330.55 148.87 L329.8 150.52 L328.99 152.16 L328.12 153.78 L327.2 155.37 L326.22 156.94 L325.19 158.48 L324.1 159.99 L322.96 161.46 Z" fill="#858585"/>
<path d="M282.8 121.3 L319.43 157.93 L318.35 159.26 L317.23 160.56 L316.06 161.83 L314.84 163.06 L313.58 164.25 L312.27 165.41 L310.92 166.53 L309.53 167.6 L308.1 168.64 L306.63 169.63 L305.12 170.57 L303.58 171.47 L302 172.31 L300.39 173.11 L298.74 173.86 L297.07 174.55 L295.37 175.2 L293.64 175.78 L291.88 176.31 L290.11 176.79 L288.31 177.2 L286.49 177.56 L284.65 177.86 L282.8 178.1 Z" fill="#fec408"/>
<path d="M282.8 121.3 L282.8 173.1 L281.1 173.28 L279.38 173.4 L277.66 173.47 L275.93 173.48 L274.19 173.44 L272.45 173.33 L270.71 173.17 L268.96 172.94 L267.22 172.66 L265.48 172.32 L263.75 171.92 L262.02 171.47 L260.3 170.95 L258.6 170.37 L256.91 169.74 L255.23 169.05 L253.58 168.3 L251.94 167.49 L250.32 166.62 L248.73 165.7 L247.16 164.72 L245.62 163.69 L244.11 162.6 L242.64 161.46 Z" fill="#e05524"/>
<path d="M282.8 121.3 L246.17 157.93 L244.84 156.85 L243.54 155.73 L242.27 154.56 L241.04 153.34 L239.85 152.08 L238.69 150.77 L237.57 149.42 L236.5 148.03 L235.46 146.6 L234.47 145.13 L233.53 143.62 L232.63 142.08 L231.79 140.5 L230.99 138.89 L230.24 137.24 L229.55 135.57 L228.9 133.87 L228.32 132.14 L227.79 130.38 L227.31 128.61 L226.9 126.81 L226.54 124.99 L226.24 123.15 L226 121.3 Z" fill="#5f5f5f"/>
<path d="M282.8 121.3 L231 121.3 L230.82 119.6 L230.7 117.88 L230.63 116.16 L230.62 114.43 L230.66 112.69 L230.77 110.95 L230.93 109.21 L231.16 107.46 L231.44 105.72 L231.78 103.98 L232.18 102.25 L232.63 100.52 L233.15 98.8 L233.73 97.1 L234.36 95.41 L235.05 93.73 L235.8 92.08 L236.61 90.44 L237.48 88.82 L238.4 87.23 L239.38 85.66 L240.41 84.12 L241.5 82.61 L242.64 81.14 Z" fill="#060606"/>
<path d="M282.8 121.3 L246.17 84.67 L247.25 83.34 L248.37 82.04 L249.54 80.77 L250.76 79.54 L252.02 78.35 L253.33 77.19 L254.68 76.07 L256.07 75 L257.5 73.96 L258.97 72.97 L260.48 72.03 L262.02 71.13 L263.6 70.29 L265.21 69.49 L266.86 68.74 L268.53 68.05 L270.23 67.4 L271.96 66.82 L273.72 66.29 L275.49 65.81 L277.29 65.4 L279.11 65.04 L280.95 64.74 L282.8 64.5 Z" fill="#3d8ab9"/>
</g>
<clipPath id="rc9"><path d="M282.8 121.3 L282.8 69.5 L284.5 69.32 L286.22 69.2 L287.94 69.13 L289.67 69.12 L291.41 69.16 L293.15 69.27 L294.89 69.43 L296.64 69.66 L298.38 69.94 L300.12 70.28 L301.85 70.68 L303.58 71.13 L305.3 71.65 L307 72.23 L308.69 72.86 L310.37 73.55 L312.02 74.3 L313.66 75.11 L315.28 75.98 L316.87 76.9 L318.44 77.88 L319.98 78.91 L321.49 80 L322.96 81.14 Z"/></clipPath>
<clipPath id="rc10"><path d="M282.8 121.3 L319.43 84.67 L320.76 85.75 L322.06 86.87 L323.33 88.04 L324.56 89.26 L325.75 90.52 L326.91 91.83 L328.03 93.18 L329.1 94.57 L330.14 96 L331.13 97.47 L332.07 98.98 L332.97 100.52 L333.81 102.1 L334.61 103.71 L335.36 105.36 L336.05 107.03 L336.7 108.73 L337.28 110.46 L337.81 112.22 L338.29 113.99 L338.7 115.79 L339.06 117.61 L339.36 119.45 L339.6 121.3 Z"/></clipPath>
<clipPath id="rc11"><path d="M282.8 121.3 L334.6 121.3 L334.78 123 L334.9 124.72 L334.97 126.44 L334.98 128.17 L334.94 129.91 L334.83 131.65 L334.67 133.39 L334.44 135.14 L334.16 136.88 L333.82 138.62 L333.42 140.35 L332.97 142.08 L332.45 143.8 L331.87 145.5 L331.24 147.19 L330.55 148.87 L329.8 150.52 L328.99 152.16 L328.12 153.78 L327.2 155.37 L326.22 156.94 L325.19 158.48 L324.1 159.99 L322.96 161.46 Z"/></clipPath>
<clipPath id="rc12"><path d="M282.8 121.3 L319.43 157.93 L318.35 159.26 L317.23 160.56 L316.06 161.83 L314.84 163.06 L313.58 164.25 L312.27 165.41 L310.92 166.53 L309.53 167.6 L308.1 168.64 L306.63 169.63 L305.12 170.57 L303.58 171.47 L302 172.31 L300.39 173.11 L298.74 173.86 L297.07 174.55 L295.37 175.2 L293.64 175.78 L291.88 176.31 L290.11 176.79 L288.31 177.2 L286.49 177.56 L284.65 177.86 L282.8 178.1 Z"/></clipPath>
<clipPath id="rc13"><path d="M282.8 121.3 L282.8 173.1 L281.1 173.28 L279.38 173.4 L277.66 173.47 L275.93 173.48 L274.19 173.44 L272.45 173.33 L270.71 173.17 L268.96 172.94 L267.22 172.66 L265.48 172.32 L263.75 171.92 L262.02 171.47 L260.3 170.95 L258.6 170.37 L256.91 169.74 L255.23 169.05 L253.58 168.3 L251.94 167.49 L250.32 166.62 L248.73 165.7 L247.16 164.72 L245.62 163.69 L244.11 162.6 L242.64 161.46 Z"/></clipPath>
<clipPath id="rc14"><path d="M282.8 121.3 L246.17 157.93 L244.84 156.85 L243.54 155.73 L242.27 154.56 L241.04 153.34 L239.85 152.08 L238.69 150.77 L237.57 149.42 L236.5 148.03 L235.46 146.6 L234.47 145.13 L233.53 143.62 L232.63 142.08 L231.79 140.5 L230.99 138.89 L230.24 137.24 L229.55 135.57 L228.9 133.87 L228.32 132.14 L227.79 130.38 L227.31 128.61 L226.9 126.81 L226.54 124.99 L226.24 123.15 L226 121.3 Z"/></clipPath>
<clipPath id="rc15"><path d="M282.8 121.3 L231 121.3 L230.82 119.6 L230.7 117.88 L230.63 116.16 L230.62 114.43 L230.66 112.69 L230.77 110.95 L230.93 109.21 L231.16 107.46 L231.44 105.72 L231.78 103.98 L232.18 102.25 L232.63 100.52 L233.15 98.8 L233.73 97.1 L234.36 95.41 L235.05 93.73 L235.8 92.08 L236.61 90.44 L237.48 88.82 L238.4 87.23 L239.38 85.66 L240.41 84.12 L241.5 82.61 L242.64 81.14 Z"/></clipPath>
<clipPath id="rc16"><path d="M282.8 121.3 L246.17 84.67 L247.25 83.34 L248.37 82.04 L249.54 80.77 L250.76 79.54 L252.02 78.35 L253.33 77.19 L254.68 76.07 L256.07 75 L257.5 73.96 L258.97 72.97 L260.48 72.03 L262.02 71.13 L263.6 70.29 L265.21 69.49 L266.86 68.74 L268.53 68.05 L270.23 67.4 L271.96 66.82 L273.72 66.29 L275.49 65.81 L277.29 65.4 L279.11 65.04 L280.95 64.74 L282.8 64.5 Z"/></clipPath>
<g clip-path="url(#rc10)"><path d="M282.8 121.3 L282.8 69.5 L284.5 69.32 L286.22 69.2 L287.94 69.13 L289.67 69.12 L291.41 69.16 L293.15 69.27 L294.89 69.43 L296.64 69.66 L298.38 69.94 L300.12 70.28 L301.85 70.68 L303.58 71.13 L305.3 71.65 L307 72.23 L308.69 72.86 L310.37 73.55 L312.02 74.3 L313.66 75.11 L315.28 75.98 L316.87 76.9 L318.44 77.88 L319.98 78.91 L321.49 80 L322.96 81.14 Z" fill="#000" fill-opacity="0.45" filter="url(#bl1)" transform="rotate(2.8 282.8 121.3)"/></g>
<g clip-path="url(#rc11)"><path d="M282.8 121.3 L319.43 84.67 L320.76 85.75 L322.06 86.87 L323.33 88.04 L324.56 89.26 L325.75 90.52 L326.91 91.83 L328.03 93.18 L329.1 94.57 L330.14 96 L331.13 97.47 L332.07 98.98 L332.97 100.52 L333.81 102.1 L334.61 103.71 L335.36 105.36 L336.05 107.03 L336.7 108.73 L337.28 110.46 L337.81 112.22 L338.29 113.99 L338.7 115.79 L339.06 117.61 L339.36 119.45 L339.6 121.3 Z" fill="#000" fill-opacity="0.45" filter="url(#bl1)" transform="rotate(2.8 282.8 121.3)"/></g>
<g clip-path="url(#rc12)"><path d="M282.8 121.3 L334.6 121.3 L334.78 123 L334.9 124.72 L334.97 126.44 L334.98 128.17 L334.94 129.91 L334.83 131.65 L334.67 133.39 L334.44 135.14 L334.16 136.88 L333.82 138.62 L333.42 140.35 L332.97 142.08 L332.45 143.8 L331.87 145.5 L331.24 147.19 L330.55 148.87 L329.8 150.52 L328.99 152.16 L328.12 153.78 L327.2 155.37 L326.22 156.94 L325.19 158.48 L324.1 159.99 L322.96 161.46 Z" fill="#000" fill-opacity="0.45" filter="url(#bl1)" transform="rotate(2.8 282.8 121.3)"/></g>
<g clip-path="url(#rc13)"><path d="M282.8 121.3 L319.43 157.93 L318.35 159.26 L317.23 160.56 L316.06 161.83 L314.84 163.06 L313.58 164.25 L312.27 165.41 L310.92 166.53 L309.53 167.6 L308.1 168.64 L306.63 169.63 L305.12 170.57 L303.58 171.47 L302 172.31 L300.39 173.11 L298.74 173.86 L297.07 174.55 L295.37 175.2 L293.64 175.78 L291.88 176.31 L290.11 176.79 L288.31 177.2 L286.49 177.56 L284.65 177.86 L282.8 178.1 Z" fill="#000" fill-opacity="0.45" filter="url(#bl1)" transform="rotate(2.8 282.8 121.3)"/></g>
<g clip-path="url(#rc14)"><path d="M282.8 121.3 L282.8 173.1 L281.1 173.28 L279.38 173.4 L277.66 173.47 L275.93 173.48 L274.19 173.44 L272.45 173.33 L270.71 173.17 L268.96 172.94 L267.22 172.66 L265.48 172.32 L263.75 171.92 L262.02 171.47 L260.3 170.95 L258.6 170.37 L256.91 169.74 L255.23 169.05 L253.58 168.3 L251.94 167.49 L250.32 166.62 L248.73 165.7 L247.16 164.72 L245.62 163.69 L244.11 162.6 L242.64 161.46 Z" fill="#000" fill-opacity="0.45" filter="url(#bl1)" transform="rotate(2.8 282.8 121.3)"/></g>
<g clip-path="url(#rc15)"><path d="M282.8 121.3 L246.17 157.93 L244.84 156.85 L243.54 155.73 L242.27 154.56 L241.04 153.34 L239.85 152.08 L238.69 150.77 L237.57 149.42 L236.5 148.03 L235.46 146.6 L234.47 145.13 L233.53 143.62 L232.63 142.08 L231.79 140.5 L230.99 138.89 L230.24 137.24 L229.55 135.57 L228.9 133.87 L228.32 132.14 L227.79 130.38 L227.31 128.61 L226.9 126.81 L226.54 124.99 L226.24 123.15 L226 121.3 Z" fill="#000" fill-opacity="0.45" filter="url(#bl1)" transform="rotate(2.8 282.8 121.3)"/></g>
<g clip-path="url(#rc16)"><path d="M282.8 121.3 L231 121.3 L230.82 119.6 L230.7 117.88 L230.63 116.16 L230.62 114.43 L230.66 112.69 L230.77 110.95 L230.93 109.21 L231.16 107.46 L231.44 105.72 L231.78 103.98 L232.18 102.25 L232.63 100.52 L233.15 98.8 L233.73 97.1 L234.36 95.41 L235.05 93.73 L235.8 92.08 L236.61 90.44 L237.48 88.82 L238.4 87.23 L239.38 85.66 L240.41 84.12 L241.5 82.61 L242.64 81.14 Z" fill="#000" fill-opacity="0.45" filter="url(#bl1)" transform="rotate(2.8 282.8 121.3)"/></g>
<g clip-path="url(#rc9)"><path d="M282.8 121.3 L246.17 84.67 L247.25 83.34 L248.37 82.04 L249.54 80.77 L250.76 79.54 L252.02 78.35 L253.33 77.19 L254.68 76.07 L256.07 75 L257.5 73.96 L258.97 72.97 L260.48 72.03 L262.02 71.13 L263.6 70.29 L265.21 69.49 L266.86 68.74 L268.53 68.05 L270.23 67.4 L271.96 66.82 L273.72 66.29 L275.49 65.81 L277.29 65.4 L279.11 65.04 L280.95 64.74 L282.8 64.5 Z" fill="#000" fill-opacity="0.45" filter="url(#bl1)" transform="rotate(2.8 282.8 121.3)"/></g>
<text transform="translate(300.4 80.35) scale(0.75 1)" font-size="4.51" fill="#fff" fill-opacity="0.8" text-anchor="middle" font-weight="normal" textLength="6.93" lengthAdjust="spacing">02</text>
<text transform="translate(325.3 105.25) scale(0.75 1)" font-size="4.51" fill="#fff" fill-opacity="0.8" text-anchor="middle" font-weight="normal" textLength="6.93" lengthAdjust="spacing">03</text>
<text transform="translate(325.3 140.45) scale(0.75 1)" font-size="4.51" fill="#fff" fill-opacity="0.8" text-anchor="middle" font-weight="normal" textLength="6.93" lengthAdjust="spacing">04</text>
<text transform="translate(300.4 165.35) scale(0.75 1)" font-size="4.51" fill="#fff" fill-opacity="0.8" text-anchor="middle" font-weight="normal" textLength="6.93" lengthAdjust="spacing">05</text>
<text transform="translate(265.2 165.35) scale(0.75 1)" font-size="4.51" fill="#fff" fill-opacity="0.8" text-anchor="middle" font-weight="normal" textLength="6.93" lengthAdjust="spacing">06</text>
<text transform="translate(240.3 140.45) scale(0.75 1)" font-size="4.51" fill="#fff" fill-opacity="0.8" text-anchor="middle" font-weight="normal" textLength="6.93" lengthAdjust="spacing">07</text>
<text transform="translate(240.3 105.25) scale(0.75 1)" font-size="4.51" fill="#fff" fill-opacity="0.8" text-anchor="middle" font-weight="normal" textLength="6.93" lengthAdjust="spacing">08</text>
<text transform="translate(265.2 80.35) scale(0.75 1)" font-size="4.51" fill="#fff" fill-opacity="0.8" text-anchor="middle" font-weight="normal" textLength="6.93" lengthAdjust="spacing">01</text>
<circle cx="282.8" cy="121.3" r="21.4" fill="url(#wg)" filter="url(#sh2)"/>
<g transform="translate(282.8 116.8) scale(1)" fill="#111"><rect x="-4.4" y="-4.1" width="0.9" height="8.2"/><rect x="-4.4" y="3.2" width="8.8" height="0.9"/><rect x="-2.7" y="-1.5" width="1.2" height="4.8"/><rect x="-0.6" y="-4.1" width="1.2" height="7.3"/><rect x="1.5" y="-1" width="1.2" height="4.3"/><rect x="2.8" y="0.4" width="1.6" height="2.9"/></g>
<text transform="translate(282.8 126.9) scale(0.6 1)" font-size="3.78" fill="#1a1a1a" text-anchor="middle" font-weight="bold" textLength="50" lengthAdjust="spacing">LOREM IPSUM</text>
<text transform="translate(338.7 103.8) scale(0.6 1)" font-size="4.65" fill="#333" text-anchor="start" font-weight="bold" textLength="25.67" lengthAdjust="spacing">37.5%</text>
<text transform="translate(339.6 140.1) scale(0.6 1)" font-size="4.65" fill="#333" text-anchor="start" font-weight="bold" textLength="28.67" lengthAdjust="spacing">20,345</text>
<g transform="translate(256.2 63.3) scale(1)"><rect x="-3.4" y="-3.4" width="6.8" height="6.8" fill="#fff" stroke="#8a8a8a" stroke-width="0.75"/><path d="M-3.75 -3.4 H3.75 M-3.75 3.4 H3.75" stroke="#2e2e2e" stroke-width="0.8"/><path d="M-1.5 -1.0 V2.3 M0.3 0.8 V2.3 M1.9 -1.6 V2.3" stroke="#333" stroke-width="0.85" fill="none"/></g>
<g transform="translate(260.7 182) scale(1)"><path d="M-1.9 -3.7 H1.9" stroke="#2a2a2a" stroke-width="0.9"/><path d="M-1.0 -3.4 V-1.9 L-3.5 3.7 H3.5 L1.0 -1.9 V-3.4" stroke="#2a2a2a" stroke-width="0.7" fill="none" stroke-linejoin="round"/><path d="M-2.5 1.6 H2.5 L3.6 3.95 H-3.6 Z" fill="#2a2a2a"/></g></svg>
<svg class="s" style="left:0px;top:318px" width="384" height="216" viewBox="0 0 384 216"><text transform="translate(191.7 32) scale(0.47 1)" font-size="10.17" fill="#1e1e1e" text-anchor="middle" font-weight="normal" textLength="255.32" lengthAdjust="spacing" stroke="#1e1e1e" stroke-width="0.22">INFOGRAPHIC DESIGN ELEMENTS</text>
<rect x="164" y="41" width="56" height="1" fill="#7a7a7a"/>
<text transform="translate(223.5 73.05) scale(0.62 1)" font-size="5.52" fill="#222" text-anchor="start" font-weight="normal" textLength="78.71" lengthAdjust="spacing" stroke="#222" stroke-width="0.1">YOUR TITLE HERE</text>
<text transform="translate(223.5 82.25) scale(0.6 1)" font-size="3.63" fill="#222" text-anchor="start" font-weight="bold" textLength="114.67" lengthAdjust="spacing">LOREM IPSUM DOLOR SIT AMET</text>
<text transform="translate(223.5 88.05) scale(0.6 1)" font-size="3.63" fill="#222" text-anchor="start" font-weight="bold" textLength="147.33" lengthAdjust="spacing">CONSECTETUR ADIPISCING ELIT SED DO</text>
<text transform="translate(223.5 93.85) scale(0.6 1)" font-size="3.63" fill="#222" text-anchor="start" font-weight="bold" textLength="158.83" lengthAdjust="spacing">EIUSMOD TEMPOR LOREM IPSUM DOLOR SIT</text>
<text transform="translate(223.5 99.65) scale(0.6 1)" font-size="3.63" fill="#222" text-anchor="start" font-weight="bold" textLength="157.17" lengthAdjust="spacing">AMET CONSECTETUR ADIPISCING ELIT SED</text>
<text transform="translate(223.5 105.45) scale(0.6 1)" font-size="3.63" fill="#222" text-anchor="start" font-weight="bold" textLength="75.17" lengthAdjust="spacing">DO EIUSMOD TEMPOR</text>
<circle cx="231.4" cy="127" r="9.6" fill="none" stroke="#2e2e2e" stroke-width="0.9"/>
<text transform="translate(231.4 129.3) scale(0.75 1)" font-size="6.69" fill="#333" text-anchor="middle" font-weight="normal" textLength="8.8" lengthAdjust="spacing">01</text>
<text transform="translate(231.4 148.2) scale(0.6 1)" font-size="4.65" fill="#222" text-anchor="middle" font-weight="normal" textLength="25.33" lengthAdjust="spacing" stroke="#222" stroke-width="0.15">LOREM</text>
<circle cx="257.65" cy="127" r="9.6" fill="none" stroke="#2e2e2e" stroke-width="0.9"/>
<text transform="translate(257.65 129.3) scale(0.75 1)" font-size="6.69" fill="#333" text-anchor="middle" font-weight="normal" textLength="8.8" lengthAdjust="spacing">02</text>
<text transform="translate(257.65 148.2) scale(0.6 1)" font-size="4.65" fill="#222" text-anchor="middle" font-weight="normal" textLength="24.17" lengthAdjust="spacing" stroke="#222" stroke-width="0.15">IPSUM</text>
<circle cx="283.9" cy="127" r="9.6" fill="none" stroke="#2e2e2e" stroke-width="0.9"/>
<text transform="translate(283.9 129.3) scale(0.75 1)" font-size="6.69" fill="#333" text-anchor="middle" font-weight="normal" textLength="8.8" lengthAdjust="spacing">03</text>
<text transform="translate(283.9 148.2) scale(0.6 1)" font-size="4.65" fill="#222" text-anchor="middle" font-weight="normal" textLength="25.83" lengthAdjust="spacing" stroke="#222" stroke-width="0.15">DOLOR</text>
<circle cx="310.15" cy="127" r="9.6" fill="none" stroke="#2e2e2e" stroke-width="0.9"/>
<text transform="translate(310.15 129.3) scale(0.75 1)" font-size="6.69" fill="#333" text-anchor="middle" font-weight="normal" textLength="8.8" lengthAdjust="spacing">04</text>
<text transform="translate(310.15 148.2) scale(0.6 1)" font-size="4.65" fill="#222" text-anchor="middle" font-weight="normal" textLength="20.83" lengthAdjust="spacing" stroke="#222" stroke-width="0.15">AMET</text>
<circle cx="336.4" cy="127" r="9.6" fill="none" stroke="#2e2e2e" stroke-width="0.9"/>
<text transform="translate(336.4 129.3) scale(0.75 1)" font-size="6.69" fill="#333" text-anchor="middle" font-weight="normal" textLength="8.8" lengthAdjust="spacing">05</text>
<text transform="translate(336.4 148.2) scale(0.6 1)" font-size="4.65" fill="#222" text-anchor="middle" font-weight="normal" textLength="28.33" lengthAdjust="spacing" stroke="#222" stroke-width="0.15">DESIGN</text>
<rect x="221.8" y="162.3" width="41.4" height="12" rx="6" fill="#a5bc2c" stroke="#97ab26" stroke-width="0.6"/>
<text transform="translate(241.7 169.9) scale(0.6 1)" font-size="4.65" fill="#f3fb8c" text-anchor="middle" font-weight="bold" textLength="52.5" lengthAdjust="spacing">LOREM IPSUM</text>
<g filter="url(#sh)">
<path d="M93.1 120.2 L93.1 69.2 L95.34 68.98 L97.59 68.86 L99.86 68.84 L102.14 68.92 L104.43 69.11 L106.71 69.39 L109 69.78 L111.27 70.27 L113.54 70.86 L115.78 71.56 L118 72.36 L120.2 73.26 L122.36 74.26 L124.49 75.37 L126.58 76.57 L128.62 77.86 L130.62 79.26 L132.56 80.74 L134.44 82.32 L136.25 83.99 L138 85.74 L139.68 87.58 L141.29 89.5 L142.81 91.5 Z" fill="#a8b925"/>
<path d="M93.1 120.2 L137.27 94.7 L138.57 96.53 L139.81 98.42 L140.96 100.38 L142.03 102.39 L143.01 104.46 L143.91 106.59 L144.71 108.76 L145.43 110.97 L146.04 113.23 L146.56 115.52 L146.98 117.85 L147.3 120.2 L147.51 122.58 L147.63 124.97 L147.63 127.38 L147.53 129.8 L147.32 132.22 L147 134.64 L146.57 137.06 L146.04 139.47 L145.39 141.86 L144.64 144.23 L143.78 146.58 L142.81 148.9 Z" fill="#f79600"/>
<path d="M93.1 120.2 L137.27 145.7 L136.34 147.75 L135.31 149.76 L134.2 151.73 L132.99 153.67 L131.68 155.56 L130.29 157.39 L128.82 159.18 L127.25 160.9 L125.61 162.57 L123.88 164.16 L122.08 165.69 L120.2 167.14 L118.25 168.51 L116.23 169.81 L114.15 171.01 L112 172.13 L109.8 173.16 L107.54 174.1 L105.24 174.94 L102.88 175.68 L100.49 176.32 L98.06 176.85 L95.59 177.28 L93.1 177.6 Z" fill="#858585"/>
<path d="M93.1 120.2 L93.1 171.2 L90.86 171.42 L88.61 171.54 L86.34 171.56 L84.06 171.48 L81.77 171.29 L79.49 171.01 L77.2 170.62 L74.93 170.13 L72.66 169.54 L70.42 168.84 L68.2 168.04 L66 167.14 L63.84 166.14 L61.71 165.03 L59.62 163.83 L57.58 162.54 L55.58 161.14 L53.64 159.66 L51.76 158.08 L49.95 156.41 L48.2 154.66 L46.52 152.82 L44.91 150.9 L43.39 148.9 Z" fill="#fec408"/>
<path d="M93.1 120.2 L48.93 145.7 L47.63 143.87 L46.39 141.98 L45.24 140.02 L44.17 138.01 L43.19 135.94 L42.29 133.81 L41.49 131.64 L40.77 129.43 L40.16 127.17 L39.64 124.88 L39.22 122.55 L38.9 120.2 L38.69 117.82 L38.57 115.43 L38.57 113.02 L38.67 110.6 L38.88 108.18 L39.2 105.76 L39.63 103.34 L40.16 100.93 L40.81 98.54 L41.56 96.17 L42.42 93.82 L43.39 91.5 Z" fill="#e05524"/>
<path d="M93.1 120.2 L48.93 94.7 L49.86 92.65 L50.89 90.64 L52 88.67 L53.21 86.73 L54.52 84.84 L55.91 83.01 L57.38 81.22 L58.95 79.5 L60.59 77.83 L62.32 76.24 L64.12 74.71 L66 73.26 L67.95 71.89 L69.97 70.59 L72.05 69.39 L74.2 68.27 L76.4 67.24 L78.66 66.3 L80.96 65.46 L83.32 64.72 L85.71 64.08 L88.14 63.55 L90.61 63.12 L93.1 62.8 Z" fill="#3d8ab9"/>
</g>
<clipPath id="rc17"><path d="M93.1 120.2 L93.1 69.2 L95.34 68.98 L97.59 68.86 L99.86 68.84 L102.14 68.92 L104.43 69.11 L106.71 69.39 L109 69.78 L111.27 70.27 L113.54 70.86 L115.78 71.56 L118 72.36 L120.2 73.26 L122.36 74.26 L124.49 75.37 L126.58 76.57 L128.62 77.86 L130.62 79.26 L132.56 80.74 L134.44 82.32 L136.25 83.99 L138 85.74 L139.68 87.58 L141.29 89.5 L142.81 91.5 Z"/></clipPath>
<clipPath id="rc18"><path d="M93.1 120.2 L137.27 94.7 L138.57 96.53 L139.81 98.42 L140.96 100.38 L142.03 102.39 L143.01 104.46 L143.91 106.59 L144.71 108.76 L145.43 110.97 L146.04 113.23 L146.56 115.52 L146.98 117.85 L147.3 120.2 L147.51 122.58 L147.63 124.97 L147.63 127.38 L147.53 129.8 L147.32 132.22 L147 134.64 L146.57 137.06 L146.04 139.47 L145.39 141.86 L144.64 144.23 L143.78 146.58 L142.81 148.9 Z"/></clipPath>
<clipPath id="rc19"><path d="M93.1 120.2 L137.27 145.7 L136.34 147.75 L135.31 149.76 L134.2 151.73 L132.99 153.67 L131.68 155.56 L130.29 157.39 L128.82 159.18 L127.25 160.9 L125.61 162.57 L123.88 164.16 L122.08 165.69 L120.2 167.14 L118.25 168.51 L116.23 169.81 L114.15 171.01 L112 172.13 L109.8 173.16 L107.54 174.1 L105.24 174.94 L102.88 175.68 L100.49 176.32 L98.06 176.85 L95.59 177.28 L93.1 177.6 Z"/></clipPath>
<clipPath id="rc20"><path d="M93.1 120.2 L93.1 171.2 L90.86 171.42 L88.61 171.54 L86.34 171.56 L84.06 171.48 L81.77 171.29 L79.49 171.01 L77.2 170.62 L74.93 170.13 L72.66 169.54 L70.42 168.84 L68.2 168.04 L66 167.14 L63.84 166.14 L61.71 165.03 L59.62 163.83 L57.58 162.54 L55.58 161.14 L53.64 159.66 L51.76 158.08 L49.95 156.41 L48.2 154.66 L46.52 152.82 L44.91 150.9 L43.39 148.9 Z"/></clipPath>
<clipPath id="rc21"><path d="M93.1 120.2 L48.93 145.7 L47.63 143.87 L46.39 141.98 L45.24 140.02 L44.17 138.01 L43.19 135.94 L42.29 133.81 L41.49 131.64 L40.77 129.43 L40.16 127.17 L39.64 124.88 L39.22 122.55 L38.9 120.2 L38.69 117.82 L38.57 115.43 L38.57 113.02 L38.67 110.6 L38.88 108.18 L39.2 105.76 L39.63 103.34 L40.16 100.93 L40.81 98.54 L41.56 96.17 L42.42 93.82 L43.39 91.5 Z"/></clipPath>
<clipPath id="rc22"><path d="M93.1 120.2 L48.93 94.7 L49.86 92.65 L50.89 90.64 L52 88.67 L53.21 86.73 L54.52 84.84 L55.91 83.01 L57.38 81.22 L58.95 79.5 L60.59 77.83 L62.32 76.24 L64.12 74.71 L66 73.26 L67.95 71.89 L69.97 70.59 L72.05 69.39 L74.2 68.27 L76.4 67.24 L78.66 66.3 L80.96 65.46 L83.32 64.72 L85.71 64.08 L88.14 63.55 L90.61 63.12 L93.1 62.8 Z"/></clipPath>
<g clip-path="url(#rc18)"><path d="M93.1 120.2 L93.1 69.2 L95.34 68.98 L97.59 68.86 L99.86 68.84 L102.14 68.92 L104.43 69.11 L106.71 69.39 L109 69.78 L111.27 70.27 L113.54 70.86 L115.78 71.56 L118 72.36 L120.2 73.26 L122.36 74.26 L124.49 75.37 L126.58 76.57 L128.62 77.86 L130.62 79.26 L132.56 80.74 L134.44 82.32 L136.25 83.99 L138 85.74 L139.68 87.58 L141.29 89.5 L142.81 91.5 Z" fill="#000" fill-opacity="0.45" filter="url(#bl1)" transform="rotate(2.8 93.1 120.2)"/></g>
<g clip-path="url(#rc19)"><path d="M93.1 120.2 L137.27 94.7 L138.57 96.53 L139.81 98.42 L140.96 100.38 L142.03 102.39 L143.01 104.46 L143.91 106.59 L144.71 108.76 L145.43 110.97 L146.04 113.23 L146.56 115.52 L146.98 117.85 L147.3 120.2 L147.51 122.58 L147.63 124.97 L147.63 127.38 L147.53 129.8 L147.32 132.22 L147 134.64 L146.57 137.06 L146.04 139.47 L145.39 141.86 L144.64 144.23 L143.78 146.58 L142.81 148.9 Z" fill="#000" fill-opacity="0.45" filter="url(#bl1)" transform="rotate(2.8 93.1 120.2)"/></g>
<g clip-path="url(#rc20)"><path d="M93.1 120.2 L137.27 145.7 L136.34 147.75 L135.31 149.76 L134.2 151.73 L132.99 153.67 L131.68 155.56 L130.29 157.39 L128.82 159.18 L127.25 160.9 L125.61 162.57 L123.88 164.16 L122.08 165.69 L120.2 167.14 L118.25 168.51 L116.23 169.81 L114.15 171.01 L112 172.13 L109.8 173.16 L107.54 174.1 L105.24 174.94 L102.88 175.68 L100.49 176.32 L98.06 176.85 L95.59 177.28 L93.1 177.6 Z" fill="#000" fill-opacity="0.45" filter="url(#bl1)" transform="rotate(2.8 93.1 120.2)"/></g>
<g clip-path="url(#rc21)"><path d="M93.1 120.2 L93.1 171.2 L90.86 171.42 L88.61 171.54 L86.34 171.56 L84.06 171.48 L81.77 171.29 L79.49 171.01 L77.2 170.62 L74.93 170.13 L72.66 169.54 L70.42 168.84 L68.2 168.04 L66 167.14 L63.84 166.14 L61.71 165.03 L59.62 163.83 L57.58 162.54 L55.58 161.14 L53.64 159.66 L51.76 158.08 L49.95 156.41 L48.2 154.66 L46.52 152.82 L44.91 150.9 L43.39 148.9 Z" fill="#000" fill-opacity="0.45" filter="url(#bl1)" transform="rotate(2.8 93.1 120.2)"/></g>
<g clip-path="url(#rc22)"><path d="M93.1 120.2 L48.93 145.7 L47.63 143.87 L46.39 141.98 L45.24 140.02 L44.17 138.01 L43.19 135.94 L42.29 133.81 L41.49 131.64 L40.77 129.43 L40.16 127.17 L39.64 124.88 L39.22 122.55 L38.9 120.2 L38.69 117.82 L38.57 115.43 L38.57 113.02 L38.67 110.6 L38.88 108.18 L39.2 105.76 L39.63 103.34 L40.16 100.93 L40.81 98.54 L41.56 96.17 L42.42 93.82 L43.39 91.5 Z" fill="#000" fill-opacity="0.45" filter="url(#bl1)" transform="rotate(2.8 93.1 120.2)"/></g>
<g clip-path="url(#rc17)"><path d="M93.1 120.2 L48.93 94.7 L49.86 92.65 L50.89 90.64 L52 88.67 L53.21 86.73 L54.52 84.84 L55.91 83.01 L57.38 81.22 L58.95 79.5 L60.59 77.83 L62.32 76.24 L64.12 74.71 L66 73.26 L67.95 71.89 L69.97 70.59 L72.05 69.39 L74.2 68.27 L76.4 67.24 L78.66 66.3 L80.96 65.46 L83.32 64.72 L85.71 64.08 L88.14 63.55 L90.61 63.12 L93.1 62.8 Z" fill="#000" fill-opacity="0.45" filter="url(#bl1)" transform="rotate(2.8 93.1 120.2)"/></g>
<text transform="translate(114.6 84.51) scale(0.75 1)" font-size="4.51" fill="#fff" fill-opacity="0.8" text-anchor="middle" font-weight="normal" textLength="6.93" lengthAdjust="spacing">02</text>
<text transform="translate(136.1 121.75) scale(0.75 1)" font-size="4.51" fill="#fff" fill-opacity="0.8" text-anchor="middle" font-weight="normal" textLength="6.93" lengthAdjust="spacing">03</text>
<text transform="translate(114.6 158.99) scale(0.75 1)" font-size="4.51" fill="#fff" fill-opacity="0.8" text-anchor="middle" font-weight="normal" textLength="6.93" lengthAdjust="spacing">04</text>
<text transform="translate(71.6 158.99) scale(0.75 1)" font-size="4.51" fill="#fff" fill-opacity="0.8" text-anchor="middle" font-weight="normal" textLength="6.93" lengthAdjust="spacing">05</text>
<text transform="translate(50.1 121.75) scale(0.75 1)" font-size="4.51" fill="#fff" fill-opacity="0.8" text-anchor="middle" font-weight="normal" textLength="6.93" lengthAdjust="spacing">06</text>
<text transform="translate(71.6 84.51) scale(0.75 1)" font-size="4.51" fill="#fff" fill-opacity="0.8" text-anchor="middle" font-weight="normal" textLength="6.93" lengthAdjust="spacing">01</text>
<circle cx="93.1" cy="119.3" r="20" fill="url(#wg)" filter="url(#sh2)"/>
<g transform="translate(93.1 116) scale(0.85)" fill="#111"><rect x="-4.4" y="-4.1" width="0.9" height="8.2"/><rect x="-4.4" y="3.2" width="8.8" height="0.9"/><rect x="-2.7" y="-1.5" width="1.2" height="4.8"/><rect x="-0.6" y="-4.1" width="1.2" height="7.3"/><rect x="1.5" y="-1" width="1.2" height="4.3"/><rect x="2.8" y="0.4" width="1.6" height="2.9"/></g>
<text transform="translate(93.1 125.3) scale(0.6 1)" font-size="2.91" fill="#1a1a1a" text-anchor="middle" font-weight="bold" textLength="42.5" lengthAdjust="spacing">LOREM IPSUM</text>
<text transform="translate(110 64.5) scale(0.6 1)" font-size="4.65" fill="#333" text-anchor="start" font-weight="bold" textLength="23.83" lengthAdjust="spacing">37.4%</text>
<text transform="translate(108.3 183.2) scale(0.6 1)" font-size="4.65" fill="#333" text-anchor="start" font-weight="bold" textLength="29.5" lengthAdjust="spacing">20.345</text>
<g transform="translate(51.9 68.8) scale(1)"><rect x="-3.4" y="-3.4" width="6.8" height="6.8" fill="#fff" stroke="#8a8a8a" stroke-width="0.75"/><path d="M-3.75 -3.4 H3.75 M-3.75 3.4 H3.75" stroke="#2e2e2e" stroke-width="0.8"/><path d="M-1.5 -1.0 V2.3 M0.3 0.8 V2.3 M1.9 -1.6 V2.3" stroke="#333" stroke-width="0.85" fill="none"/></g>
<g transform="translate(67.4 176.6) scale(1)"><path d="M-1.9 -3.7 H1.9" stroke="#2a2a2a" stroke-width="0.9"/><path d="M-1.0 -3.4 V-1.9 L-3.5 3.7 H3.5 L1.0 -1.9 V-3.4" stroke="#2a2a2a" stroke-width="0.7" fill="none" stroke-linejoin="round"/><path d="M-2.5 1.6 H2.5 L3.6 3.95 H-3.6 Z" fill="#2a2a2a"/></g></svg>
<svg class="s" style="left:388px;top:318px" width="384" height="216" viewBox="0 0 384 216"><text transform="translate(191.7 32) scale(0.47 1)" font-size="10.17" fill="#1e1e1e" text-anchor="middle" font-weight="normal" textLength="255.32" lengthAdjust="spacing" stroke="#1e1e1e" stroke-width="0.22">INFOGRAPHIC DESIGN ELEMENTS</text>
<rect x="164" y="41" width="56" height="1" fill="#7a7a7a"/>
<text transform="translate(223.5 73.05) scale(0.62 1)" font-size="5.52" fill="#222" text-anchor="start" font-weight="normal" textLength="78.71" lengthAdjust="spacing" stroke="#222" stroke-width="0.1">YOUR TITLE HERE</text>
<text transform="translate(223.5 82.25) scale(0.6 1)" font-size="3.63" fill="#222" text-anchor="start" font-weight="bold" textLength="114.67" lengthAdjust="spacing">LOREM IPSUM DOLOR SIT AMET</text>
<text transform="translate(223.5 88.05) scale(0.6 1)" font-size="3.63" fill="#222" text-anchor="start" font-weight="bold" textLength="147.33" lengthAdjust="spacing">CONSECTETUR ADIPISCING ELIT SED DO</text>
<text transform="translate(223.5 93.85) scale(0.6 1)" font-size="3.63" fill="#222" text-anchor="start" font-weight="bold" textLength="158.83" lengthAdjust="spacing">EIUSMOD TEMPOR LOREM IPSUM DOLOR SIT</text>
<text transform="translate(223.5 99.65) scale(0.6 1)" font-size="3.63" fill="#222" text-anchor="start" font-weight="bold" textLength="157.17" lengthAdjust="spacing">AMET CONSECTETUR ADIPISCING ELIT SED</text>
<text transform="translate(223.5 105.45) scale(0.6 1)" font-size="3.63" fill="#222" text-anchor="start" font-weight="bold" textLength="75.17" lengthAdjust="spacing">DO EIUSMOD TEMPOR</text>
<circle cx="231.4" cy="127" r="9.6" fill="none" stroke="#2e2e2e" stroke-width="0.9"/>
<text transform="translate(231.4 129.3) scale(0.75 1)" font-size="6.69" fill="#333" text-anchor="middle" font-weight="normal" textLength="8.8" lengthAdjust="spacing">01</text>
<text transform="translate(231.4 148.2) scale(0.6 1)" font-size="4.65" fill="#222" text-anchor="middle" font-weight="normal" textLength="25.33" lengthAdjust="spacing" stroke="#222" stroke-width="0.15">LOREM</text>
<circle cx="257.65" cy="127" r="9.6" fill="none" stroke="#2e2e2e" stroke-width="0.9"/>
<text transform="translate(257.65 129.3) scale(0.75 1)" font-size="6.69" fill="#333" text-anchor="middle" font-weight="normal" textLength="8.8" lengthAdjust="spacing">02</text>
<text transform="translate(257.65 148.2) scale(0.6 1)" font-size="4.65" fill="#222" text-anchor="middle" font-weight="normal" textLength="24.17" lengthAdjust="spacing" stroke="#222" stroke-width="0.15">IPSUM</text>
<circle cx="283.9" cy="127" r="9.6" fill="none" stroke="#2e2e2e" stroke-width="0.9"/>
<text transform="translate(283.9 129.3) scale(0.75 1)" font-size="6.69" fill="#333" text-anchor="middle" font-weight="normal" textLength="8.8" lengthAdjust="spacing">03</text>
<text transform="translate(283.9 148.2) scale(0.6 1)" font-size="4.65" fill="#222" text-anchor="middle" font-weight="normal" textLength="25.83" lengthAdjust="spacing" stroke="#222" stroke-width="0.15">DOLOR</text>
<rect x="221.8" y="162.3" width="41.4" height="12" rx="6" fill="#a5bc2c" stroke="#97ab26" stroke-width="0.6"/>
<text transform="translate(241.7 169.9) scale(0.6 1)" font-size="4.65" fill="#f3fb8c" text-anchor="middle" font-weight="bold" textLength="52.5" lengthAdjust="spacing">LOREM IPSUM</text>
<path d="M63.8 73.2 L78.5 84.5 L78.5 105 L63.8 97.9 Z" fill="#efefef"/>
<path d="M39.1 97.9 L63.8 97.9 L78.5 105 L74.5 105 Z" fill="#dedee2"/>
<path d="M78.5 105 L157.6 105 L188.5 88" fill="none" stroke="#c4c4c4" stroke-width="3.2" transform="translate(0 0.9)" filter="url(#blur2)"/>
<path d="M78.5 84.5 L187.5 84.5 L187.5 89 L157.6 105 L78.5 105 Z" fill="#fff"/>
<rect x="39.1" y="73.2" width="24.7" height="24.7" fill="#858585"/>
<text transform="translate(51.45 86.8) scale(0.75 1)" font-size="3.63" fill="#fff" fill-opacity="0.8" text-anchor="middle" font-weight="normal" textLength="5.33" lengthAdjust="spacing">01</text>
<text transform="translate(102.7 96.05) scale(0.6 1)" font-size="4.22" fill="#111" text-anchor="start" font-weight="bold" textLength="51.67" lengthAdjust="spacing">LOREM IPSUM</text><g transform="translate(144.7 93.9) scale(0.87)"><rect x="-3.4" y="-3.4" width="6.8" height="6.8" fill="#fff" stroke="#8a8a8a" stroke-width="0.75"/><path d="M-3.75 -3.4 H3.75 M-3.75 3.4 H3.75" stroke="#2e2e2e" stroke-width="0.8"/><path d="M-1.5 -1.0 V2.3 M0.3 0.8 V2.3 M1.9 -1.6 V2.3" stroke="#333" stroke-width="0.85" fill="none"/></g>
<path d="M63.8 110.5 L78.5 113 L78.5 133.5 L63.8 135.2 Z" fill="#efefef"/>
<path d="M78.5 133.5 L157.6 133.5 L188.5 123.7" fill="none" stroke="#c4c4c4" stroke-width="3.2" transform="translate(0 0.9)" filter="url(#blur2)"/>
<path d="M78.5 113 L187.5 113 L187.5 124.7 L157.6 133.5 L78.5 133.5 Z" fill="#fff"/>
<rect x="39.1" y="110.5" width="24.7" height="24.7" fill="#fec408"/>
<text transform="translate(51.45 124.1) scale(0.75 1)" font-size="3.63" fill="#fff" fill-opacity="0.8" text-anchor="middle" font-weight="normal" textLength="5.33" lengthAdjust="spacing">02</text>
<text transform="translate(147.5 125.15) scale(0.6 1)" font-size="4.22" fill="#111" text-anchor="end" font-weight="bold" textLength="27.5" lengthAdjust="spacing">20.345</text>
<path d="M63.8 147.8 L78.5 140.5 L78.5 161.3 L63.8 172.5 Z" fill="#efefef"/>
<path d="M39.1 147.8 L63.8 147.8 L78.5 140.5 L74.5 140.5 Z" fill="#dedee2"/>
<path d="M78.5 161.3 L187.5 161.3" fill="none" stroke="#c4c4c4" stroke-width="3.2" transform="translate(0 0.9)" filter="url(#blur2)"/>
<path d="M78.5 140.5 L187.5 140.5 L187.5 161.3 L78.5 161.3 Z" fill="#fff"/>
<rect x="39.1" y="147.8" width="24.7" height="24.7" fill="#e05524"/>
<text transform="translate(51.45 161.4) scale(0.75 1)" font-size="3.63" fill="#fff" fill-opacity="0.8" text-anchor="middle" font-weight="normal" textLength="5.33" lengthAdjust="spacing">03</text>
<text transform="translate(133.5 154.35) scale(0.6 1)" font-size="4.22" fill="#111" text-anchor="end" font-weight="bold" textLength="22.5" lengthAdjust="spacing">DOLOR</text><g transform="translate(144.7 151.6) scale(1)"><path d="M-1.9 -3.7 H1.9" stroke="#2a2a2a" stroke-width="0.9"/><path d="M-1.0 -3.4 V-1.9 L-3.5 3.7 H3.5 L1.0 -1.9 V-3.4" stroke="#2a2a2a" stroke-width="0.7" fill="none" stroke-linejoin="round"/><path d="M-2.5 1.6 H2.5 L3.6 3.95 H-3.6 Z" fill="#2a2a2a"/></g></svg>
<svg class="s" style="left:776px;top:318px" width="384" height="216" viewBox="0 0 384 216"><text transform="translate(191.7 32) scale(0.47 1)" font-size="10.17" fill="#1e1e1e" text-anchor="middle" font-weight="normal" textLength="255.32" lengthAdjust="spacing" stroke="#1e1e1e" stroke-width="0.22">INFOGRAPHIC DESIGN ELEMENTS</text>
<rect x="164" y="41" width="56" height="1" fill="#7a7a7a"/>
<text transform="translate(223.5 73.05) scale(0.62 1)" font-size="5.52" fill="#222" text-anchor="start" font-weight="normal" textLength="78.71" lengthAdjust="spacing" stroke="#222" stroke-width="0.1">YOUR TITLE HERE</text>
<text transform="translate(223.5 82.25) scale(0.6 1)" font-size="3.63" fill="#222" text-anchor="start" font-weight="bold" textLength="114.67" lengthAdjust="spacing">LOREM IPSUM DOLOR SIT AMET</text>
<text transform="translate(223.5 88.05) scale(0.6 1)" font-size="3.63" fill="#222" text-anchor="start" font-weight="bold" textLength="147.33" lengthAdjust="spacing">CONSECTETUR ADIPISCING ELIT SED DO</text>
<text transform="translate(223.5 93.85) scale(0.6 1)" font-size="3.63" fill="#222" text-anchor="start" font-weight="bold" textLength="158.83" lengthAdjust="spacing">EIUSMOD TEMPOR LOREM IPSUM DOLOR SIT</text>
<text transform="translate(223.5 99.65) scale(0.6 1)" font-size="3.63" fill="#222" text-anchor="start" font-weight="bold" textLength="157.17" lengthAdjust="spacing">AMET CONSECTETUR ADIPISCING ELIT SED</text>
<text transform="translate(223.5 105.45) scale(0.6 1)" font-size="3.63" fill="#222" text-anchor="start" font-weight="bold" textLength="75.17" lengthAdjust="spacing">DO EIUSMOD TEMPOR</text>
<circle cx="231.4" cy="127" r="9.6" fill="none" stroke="#2e2e2e" stroke-width="0.9"/>
<text transform="translate(231.4 129.3) scale(0.75 1)" font-size="6.69" fill="#333" text-anchor="middle" font-weight="normal" textLength="8.8" lengthAdjust="spacing">01</text>
<text transform="translate(231.4 148.2) scale(0.6 1)" font-size="4.65" fill="#222" text-anchor="middle" font-weight="normal" textLength="25.33" lengthAdjust="spacing" stroke="#222" stroke-width="0.15">LOREM</text>
<circle cx="257.65" cy="127" r="9.6" fill="none" stroke="#2e2e2e" stroke-width="0.9"/>
<text transform="translate(257.65 129.3) scale(0.75 1)" font-size="6.69" fill="#333" text-anchor="middle" font-weight="normal" textLength="8.8" lengthAdjust="spacing">02</text>
<text transform="translate(257.65 148.2) scale(0.6 1)" font-size="4.65" fill="#222" text-anchor="middle" font-weight="normal" textLength="24.17" lengthAdjust="spacing" stroke="#222" stroke-width="0.15">IPSUM</text>
<circle cx="283.9" cy="127" r="9.6" fill="none" stroke="#2e2e2e" stroke-width="0.9"/>
<text transform="translate(283.9 129.3) scale(0.75 1)" font-size="6.69" fill="#333" text-anchor="middle" font-weight="normal" textLength="8.8" lengthAdjust="spacing">03</text>
<text transform="translate(283.9 148.2) scale(0.6 1)" font-size="4.65" fill="#222" text-anchor="middle" font-weight="normal" textLength="25.83" lengthAdjust="spacing" stroke="#222" stroke-width="0.15">DOLOR</text>
<circle cx="310.15" cy="127" r="9.6" fill="none" stroke="#2e2e2e" stroke-width="0.9"/>
<text transform="translate(310.15 129.3) scale(0.75 1)" font-size="6.69" fill="#333" text-anchor="middle" font-weight="normal" textLength="8.8" lengthAdjust="spacing">04</text>
<text transform="translate(310.15 148.2) scale(0.6 1)" font-size="4.65" fill="#222" text-anchor="middle" font-weight="normal" textLength="20.83" lengthAdjust="spacing" stroke="#222" stroke-width="0.15">AMET</text>
<rect x="221.8" y="162.3" width="41.4" height="12" rx="6" fill="#a5bc2c" stroke="#97ab26" stroke-width="0.6"/>
<text transform="translate(241.7 169.9) scale(0.6 1)" font-size="4.65" fill="#f3fb8c" text-anchor="middle" font-weight="bold" textLength="52.5" lengthAdjust="spacing">LOREM IPSUM</text>
<path d="M62.7 63.3 L77.8 74.2 L77.8 96.1 L62.7 88.6 Z" fill="#efefef"/>
<path d="M37.4 88.6 L62.7 88.6 L77.8 96.1 L73.8 96.1 Z" fill="#dedee2"/>
<path d="M77.8 96.1 L157 96.1 L186.6 79.9" fill="none" stroke="#c4c4c4" stroke-width="3.2" transform="translate(0 0.9)" filter="url(#blur2)"/>
<path d="M77.8 74.2 L185.6 74.2 L185.6 80.9 L157 96.1 L77.8 96.1 Z" fill="#fff"/>
<rect x="37.4" y="63.3" width="25.3" height="25.3" fill="#f79600"/>
<text transform="translate(50.05 77.2) scale(0.75 1)" font-size="3.63" fill="#fff" fill-opacity="0.8" text-anchor="middle" font-weight="normal" textLength="5.33" lengthAdjust="spacing">01</text>
<text transform="translate(97.2 86.25) scale(0.6 1)" font-size="4.22" fill="#111" text-anchor="start" font-weight="bold" textLength="51.67" lengthAdjust="spacing">LOREM IPSUM</text><g transform="translate(144 84.8) scale(0.87)"><rect x="-3.4" y="-3.4" width="6.8" height="6.8" fill="#fff" stroke="#8a8a8a" stroke-width="0.75"/><path d="M-3.75 -3.4 H3.75 M-3.75 3.4 H3.75" stroke="#2e2e2e" stroke-width="0.8"/><path d="M-1.5 -1.0 V2.3 M0.3 0.8 V2.3 M1.9 -1.6 V2.3" stroke="#333" stroke-width="0.85" fill="none"/></g>
<path d="M62.7 93.1 L77.8 100.5 L77.8 121.3 L62.7 118.4 Z" fill="#efefef"/>
<path d="M37.4 118.4 L62.7 118.4 L77.8 121.3 L73.8 121.3 Z" fill="#dedee2"/>
<path d="M77.8 121.3 L157 121.3 L186.6 106.9" fill="none" stroke="#c4c4c4" stroke-width="3.2" transform="translate(0 0.9)" filter="url(#blur2)"/>
<path d="M77.8 100.5 L185.6 100.5 L185.6 107.9 L157 121.3 L77.8 121.3 Z" fill="#fff"/>
<rect x="37.4" y="93.1" width="25.3" height="25.3" fill="#858585"/>
<text transform="translate(50.05 107) scale(0.75 1)" font-size="3.63" fill="#fff" fill-opacity="0.8" text-anchor="middle" font-weight="normal" textLength="5.33" lengthAdjust="spacing">02</text>
<text transform="translate(146.8 112.35) scale(0.6 1)" font-size="4.22" fill="#111" text-anchor="end" font-weight="bold" textLength="25.17" lengthAdjust="spacing">37.4%</text>
<path d="M62.7 123 L77.8 125.5 L77.8 146.3 L62.7 148.3 Z" fill="#efefef"/>
<path d="M77.8 146.3 L157 146.3 L186.6 138" fill="none" stroke="#c4c4c4" stroke-width="3.2" transform="translate(0 0.9)" filter="url(#blur2)"/>
<path d="M77.8 125.5 L185.6 125.5 L185.6 139 L157 146.3 L77.8 146.3 Z" fill="#fff"/>
<rect x="37.4" y="123" width="25.3" height="25.3" fill="#fec408"/>
<text transform="translate(50.05 136.9) scale(0.75 1)" font-size="3.63" fill="#fff" fill-opacity="0.8" text-anchor="middle" font-weight="normal" textLength="5.33" lengthAdjust="spacing">03</text>
<text transform="translate(148.5 137.45) scale(0.6 1)" font-size="4.22" fill="#111" text-anchor="end" font-weight="bold" textLength="29.33" lengthAdjust="spacing">20.345</text>
<path d="M62.7 153 L77.8 150.5 L77.8 171.8 L62.7 178.3 Z" fill="#efefef"/>
<path d="M37.4 153 L62.7 153 L77.8 150.5 L73.8 150.5 Z" fill="#dedee2"/>
<path d="M77.8 171.8 L185.6 171.8" fill="none" stroke="#c4c4c4" stroke-width="3.2" transform="translate(0 0.9)" filter="url(#blur2)"/>
<path d="M77.8 150.5 L185.6 150.5 L185.6 171.8 L77.8 171.8 Z" fill="#fff"/>
<rect x="37.4" y="153" width="25.3" height="25.3" fill="#e05524"/>
<text transform="translate(50.05 166.9) scale(0.75 1)" font-size="3.63" fill="#fff" fill-opacity="0.8" text-anchor="middle" font-weight="normal" textLength="5.33" lengthAdjust="spacing">04</text>
<g transform="translate(144 160.4) scale(1)"><path d="M-1.9 -3.7 H1.9" stroke="#2a2a2a" stroke-width="0.9"/><path d="M-1.0 -3.4 V-1.9 L-3.5 3.7 H3.5 L1.0 -1.9 V-3.4" stroke="#2a2a2a" stroke-width="0.7" fill="none" stroke-linejoin="round"/><path d="M-2.5 1.6 H2.5 L3.6 3.95 H-3.6 Z" fill="#2a2a2a"/></g></svg>
<svg class="s" style="left:0px;top:556px" width="384" height="216" viewBox="0 0 384 216"><text transform="translate(191.7 32) scale(0.47 1)" font-size="10.17" fill="#1e1e1e" text-anchor="middle" font-weight="normal" textLength="255.32" lengthAdjust="spacing" stroke="#1e1e1e" stroke-width="0.22">INFOGRAPHIC DESIGN ELEMENTS</text>
<rect x="164" y="41" width="56" height="1" fill="#7a7a7a"/>
<text transform="translate(52.1 70.65) scale(0.62 1)" font-size="5.52" fill="#222" text-anchor="start" font-weight="normal" textLength="78.71" lengthAdjust="spacing" stroke="#222" stroke-width="0.1">YOUR TITLE HERE</text>
<text transform="translate(52.1 79.85) scale(0.6 1)" font-size="3.63" fill="#222" text-anchor="start" font-weight="bold" textLength="114.67" lengthAdjust="spacing">LOREM IPSUM DOLOR SIT AMET</text>
<text transform="translate(52.1 85.65) scale(0.6 1)" font-size="3.63" fill="#222" text-anchor="start" font-weight="bold" textLength="147.33" lengthAdjust="spacing">CONSECTETUR ADIPISCING ELIT SED DO</text>
<text transform="translate(52.1 91.45) scale(0.6 1)" font-size="3.63" fill="#222" text-anchor="start" font-weight="bold" textLength="158.83" lengthAdjust="spacing">EIUSMOD TEMPOR LOREM IPSUM DOLOR SIT</text>
<text transform="translate(52.1 97.25) scale(0.6 1)" font-size="3.63" fill="#222" text-anchor="start" font-weight="bold" textLength="157.17" lengthAdjust="spacing">AMET CONSECTETUR ADIPISCING ELIT SED</text>
<text transform="translate(52.1 103.05) scale(0.6 1)" font-size="3.63" fill="#222" text-anchor="start" font-weight="bold" textLength="75.17" lengthAdjust="spacing">DO EIUSMOD TEMPOR</text>
<circle cx="60" cy="124.6" r="9.6" fill="none" stroke="#2e2e2e" stroke-width="0.9"/>
<text transform="translate(60 126.9) scale(0.75 1)" font-size="6.69" fill="#333" text-anchor="middle" font-weight="normal" textLength="8.8" lengthAdjust="spacing">01</text>
<text transform="translate(60 145.8) scale(0.6 1)" font-size="4.65" fill="#222" text-anchor="middle" font-weight="normal" textLength="25.33" lengthAdjust="spacing" stroke="#222" stroke-width="0.15">LOREM</text>
<circle cx="86.25" cy="124.6" r="9.6" fill="none" stroke="#2e2e2e" stroke-width="0.9"/>
<text transform="translate(86.25 126.9) scale(0.75 1)" font-size="6.69" fill="#333" text-anchor="middle" font-weight="normal" textLength="8.8" lengthAdjust="spacing">02</text>
<text transform="translate(86.25 145.8) scale(0.6 1)" font-size="4.65" fill="#222" text-anchor="middle" font-weight="normal" textLength="24.17" lengthAdjust="spacing" stroke="#222" stroke-width="0.15">IPSUM</text>
<circle cx="112.5" cy="124.6" r="9.6" fill="none" stroke="#2e2e2e" stroke-width="0.9"/>
<text transform="translate(112.5 126.9) scale(0.75 1)" font-size="6.69" fill="#333" text-anchor="middle" font-weight="normal" textLength="8.8" lengthAdjust="spacing">03</text>
<text transform="translate(112.5 145.8) scale(0.6 1)" font-size="4.65" fill="#222" text-anchor="middle" font-weight="normal" textLength="25.83" lengthAdjust="spacing" stroke="#222" stroke-width="0.15">DOLOR</text>
<circle cx="138.75" cy="124.6" r="9.6" fill="none" stroke="#2e2e2e" stroke-width="0.9"/>
<text transform="translate(138.75 126.9) scale(0.75 1)" font-size="6.69" fill="#333" text-anchor="middle" font-weight="normal" textLength="8.8" lengthAdjust="spacing">04</text>
<text transform="translate(138.75 145.8) scale(0.6 1)" font-size="4.65" fill="#222" text-anchor="middle" font-weight="normal" textLength="20.83" lengthAdjust="spacing" stroke="#222" stroke-width="0.15">AMET</text>
<circle cx="165" cy="124.6" r="9.6" fill="none" stroke="#2e2e2e" stroke-width="0.9"/>
<text transform="translate(165 126.9) scale(0.75 1)" font-size="6.69" fill="#333" text-anchor="middle" font-weight="normal" textLength="8.8" lengthAdjust="spacing">05</text>
<text transform="translate(165 145.8) scale(0.6 1)" font-size="4.65" fill="#222" text-anchor="middle" font-weight="normal" textLength="28.33" lengthAdjust="spacing" stroke="#222" stroke-width="0.15">DESIGN</text>
<rect x="50.4" y="159.9" width="41.4" height="12" rx="6" fill="#a5bc2c" stroke="#97ab26" stroke-width="0.6"/>
<text transform="translate(70.3 167.5) scale(0.6 1)" font-size="4.65" fill="#f3fb8c" text-anchor="middle" font-weight="bold" textLength="52.5" lengthAdjust="spacing">LOREM IPSUM</text>
<g filter="url(#sh)">
<path d="M288.2 120.5 L288.2 69.5 L290.44 69.28 L292.69 69.16 L294.96 69.14 L297.24 69.22 L299.53 69.41 L301.81 69.69 L304.1 70.08 L306.37 70.57 L308.64 71.16 L310.88 71.86 L313.1 72.66 L315.3 73.56 L317.46 74.56 L319.59 75.67 L321.68 76.87 L323.72 78.16 L325.72 79.56 L327.66 81.04 L329.54 82.62 L331.35 84.29 L333.1 86.04 L334.78 87.88 L336.39 89.8 L337.91 91.8 Z" fill="#a8b925"/>
<path d="M288.2 120.5 L332.37 95 L333.67 96.83 L334.91 98.72 L336.06 100.68 L337.13 102.69 L338.11 104.76 L339.01 106.89 L339.81 109.06 L340.53 111.27 L341.14 113.53 L341.66 115.82 L342.08 118.15 L342.4 120.5 L342.61 122.88 L342.73 125.27 L342.73 127.68 L342.63 130.1 L342.42 132.52 L342.1 134.94 L341.67 137.36 L341.14 139.77 L340.49 142.16 L339.74 144.53 L338.88 146.88 L337.91 149.2 Z" fill="#f79600"/>
<path d="M288.2 120.5 L332.37 146 L331.44 148.05 L330.41 150.06 L329.3 152.03 L328.09 153.97 L326.78 155.86 L325.39 157.69 L323.92 159.48 L322.35 161.2 L320.71 162.87 L318.98 164.46 L317.18 165.99 L315.3 167.44 L313.35 168.81 L311.33 170.11 L309.25 171.31 L307.1 172.43 L304.9 173.46 L302.64 174.4 L300.34 175.24 L297.98 175.98 L295.59 176.62 L293.16 177.15 L290.69 177.58 L288.2 177.9 Z" fill="#858585"/>
<path d="M288.2 120.5 L288.2 171.5 L285.96 171.72 L283.71 171.84 L281.44 171.86 L279.16 171.78 L276.87 171.59 L274.59 171.31 L272.3 170.92 L270.03 170.43 L267.76 169.84 L265.52 169.14 L263.3 168.34 L261.1 167.44 L258.94 166.44 L256.81 165.33 L254.72 164.13 L252.68 162.84 L250.68 161.44 L248.74 159.96 L246.86 158.38 L245.05 156.71 L243.3 154.96 L241.62 153.12 L240.01 151.2 L238.49 149.2 Z" fill="#fec408"/>
<path d="M288.2 120.5 L244.03 146 L242.73 144.17 L241.49 142.28 L240.34 140.32 L239.27 138.31 L238.29 136.24 L237.39 134.11 L236.59 131.94 L235.87 129.73 L235.26 127.47 L234.74 125.18 L234.32 122.85 L234 120.5 L233.79 118.12 L233.67 115.73 L233.67 113.32 L233.77 110.9 L233.98 108.48 L234.3 106.06 L234.73 103.64 L235.26 101.23 L235.91 98.84 L236.66 96.47 L237.52 94.12 L238.49 91.8 Z" fill="#e05524"/>
<path d="M288.2 120.5 L244.03 95 L244.96 92.95 L245.99 90.94 L247.1 88.97 L248.31 87.03 L249.62 85.14 L251.01 83.31 L252.48 81.52 L254.05 79.8 L255.69 78.13 L257.42 76.54 L259.22 75.01 L261.1 73.56 L263.05 72.19 L265.07 70.89 L267.15 69.69 L269.3 68.57 L271.5 67.54 L273.76 66.6 L276.06 65.76 L278.42 65.02 L280.81 64.38 L283.24 63.85 L285.71 63.42 L288.2 63.1 Z" fill="#3d8ab9"/>
</g>
<clipPath id="rc23"><path d="M288.2 120.5 L288.2 69.5 L290.44 69.28 L292.69 69.16 L294.96 69.14 L297.24 69.22 L299.53 69.41 L301.81 69.69 L304.1 70.08 L306.37 70.57 L308.64 71.16 L310.88 71.86 L313.1 72.66 L315.3 73.56 L317.46 74.56 L319.59 75.67 L321.68 76.87 L323.72 78.16 L325.72 79.56 L327.66 81.04 L329.54 82.62 L331.35 84.29 L333.1 86.04 L334.78 87.88 L336.39 89.8 L337.91 91.8 Z"/></clipPath>
<clipPath id="rc24"><path d="M288.2 120.5 L332.37 95 L333.67 96.83 L334.91 98.72 L336.06 100.68 L337.13 102.69 L338.11 104.76 L339.01 106.89 L339.81 109.06 L340.53 111.27 L341.14 113.53 L341.66 115.82 L342.08 118.15 L342.4 120.5 L342.61 122.88 L342.73 125.27 L342.73 127.68 L342.63 130.1 L342.42 132.52 L342.1 134.94 L341.67 137.36 L341.14 139.77 L340.49 142.16 L339.74 144.53 L338.88 146.88 L337.91 149.2 Z"/></clipPath>
<clipPath id="rc25"><path d="M288.2 120.5 L332.37 146 L331.44 148.05 L330.41 150.06 L329.3 152.03 L328.09 153.97 L326.78 155.86 L325.39 157.69 L323.92 159.48 L322.35 161.2 L320.71 162.87 L318.98 164.46 L317.18 165.99 L315.3 167.44 L313.35 168.81 L311.33 170.11 L309.25 171.31 L307.1 172.43 L304.9 173.46 L302.64 174.4 L300.34 175.24 L297.98 175.98 L295.59 176.62 L293.16 177.15 L290.69 177.58 L288.2 177.9 Z"/></clipPath>
<clipPath id="rc26"><path d="M288.2 120.5 L288.2 171.5 L285.96 171.72 L283.71 171.84 L281.44 171.86 L279.16 171.78 L276.87 171.59 L274.59 171.31 L272.3 170.92 L270.03 170.43 L267.76 169.84 L265.52 169.14 L263.3 168.34 L261.1 167.44 L258.94 166.44 L256.81 165.33 L254.72 164.13 L252.68 162.84 L250.68 161.44 L248.74 159.96 L246.86 158.38 L245.05 156.71 L243.3 154.96 L241.62 153.12 L240.01 151.2 L238.49 149.2 Z"/></clipPath>
<clipPath id="rc27"><path d="M288.2 120.5 L244.03 146 L242.73 144.17 L241.49 142.28 L240.34 140.32 L239.27 138.31 L238.29 136.24 L237.39 134.11 L236.59 131.94 L235.87 129.73 L235.26 127.47 L234.74 125.18 L234.32 122.85 L234 120.5 L233.79 118.12 L233.67 115.73 L233.67 113.32 L233.77 110.9 L233.98 108.48 L234.3 106.06 L234.73 103.64 L235.26 101.23 L235.91 98.84 L236.66 96.47 L237.52 94.12 L238.49 91.8 Z"/></clipPath>
<clipPath id="rc28"><path d="M288.2 120.5 L244.03 95 L244.96 92.95 L245.99 90.94 L247.1 88.97 L248.31 87.03 L249.62 85.14 L251.01 83.31 L252.48 81.52 L254.05 79.8 L255.69 78.13 L257.42 76.54 L259.22 75.01 L261.1 73.56 L263.05 72.19 L265.07 70.89 L267.15 69.69 L269.3 68.57 L271.5 67.54 L273.76 66.6 L276.06 65.76 L278.42 65.02 L280.81 64.38 L283.24 63.85 L285.71 63.42 L288.2 63.1 Z"/></clipPath>
<g clip-path="url(#rc24)"><path d="M288.2 120.5 L288.2 69.5 L290.44 69.28 L292.69 69.16 L294.96 69.14 L297.24 69.22 L299.53 69.41 L301.81 69.69 L304.1 70.08 L306.37 70.57 L308.64 71.16 L310.88 71.86 L313.1 72.66 L315.3 73.56 L317.46 74.56 L319.59 75.67 L321.68 76.87 L323.72 78.16 L325.72 79.56 L327.66 81.04 L329.54 82.62 L331.35 84.29 L333.1 86.04 L334.78 87.88 L336.39 89.8 L337.91 91.8 Z" fill="#000" fill-opacity="0.45" filter="url(#bl1)" transform="rotate(2.8 288.2 120.5)"/></g>
<g clip-path="url(#rc25)"><path d="M288.2 120.5 L332.37 95 L333.67 96.83 L334.91 98.72 L336.06 100.68 L337.13 102.69 L338.11 104.76 L339.01 106.89 L339.81 109.06 L340.53 111.27 L341.14 113.53 L341.66 115.82 L342.08 118.15 L342.4 120.5 L342.61 122.88 L342.73 125.27 L342.73 127.68 L342.63 130.1 L342.42 132.52 L342.1 134.94 L341.67 137.36 L341.14 139.77 L340.49 142.16 L339.74 144.53 L338.88 146.88 L337.91 149.2 Z" fill="#000" fill-opacity="0.45" filter="url(#bl1)" transform="rotate(2.8 288.2 120.5)"/></g>
<g clip-path="url(#rc26)"><path d="M288.2 120.5 L332.37 146 L331.44 148.05 L330.41 150.06 L329.3 152.03 L328.09 153.97 L326.78 155.86 L325.39 157.69 L323.92 159.48 L322.35 161.2 L320.71 162.87 L318.98 164.46 L317.18 165.99 L315.3 167.44 L313.35 168.81 L311.33 170.11 L309.25 171.31 L307.1 172.43 L304.9 173.46 L302.64 174.4 L300.34 175.24 L297.98 175.98 L295.59 176.62 L293.16 177.15 L290.69 177.58 L288.2 177.9 Z" fill="#000" fill-opacity="0.45" filter="url(#bl1)" transform="rotate(2.8 288.2 120.5)"/></g>
<g clip-path="url(#rc27)"><path d="M288.2 120.5 L288.2 171.5 L285.96 171.72 L283.71 171.84 L281.44 171.86 L279.16 171.78 L276.87 171.59 L274.59 171.31 L272.3 170.92 L270.03 170.43 L267.76 169.84 L265.52 169.14 L263.3 168.34 L261.1 167.44 L258.94 166.44 L256.81 165.33 L254.72 164.13 L252.68 162.84 L250.68 161.44 L248.74 159.96 L246.86 158.38 L245.05 156.71 L243.3 154.96 L241.62 153.12 L240.01 151.2 L238.49 149.2 Z" fill="#000" fill-opacity="0.45" filter="url(#bl1)" transform="rotate(2.8 288.2 120.5)"/></g>
<g clip-path="url(#rc28)"><path d="M288.2 120.5 L244.03 146 L242.73 144.17 L241.49 142.28 L240.34 140.32 L239.27 138.31 L238.29 136.24 L237.39 134.11 L236.59 131.94 L235.87 129.73 L235.26 127.47 L234.74 125.18 L234.32 122.85 L234 120.5 L233.79 118.12 L233.67 115.73 L233.67 113.32 L233.77 110.9 L233.98 108.48 L234.3 106.06 L234.73 103.64 L235.26 101.23 L235.91 98.84 L236.66 96.47 L237.52 94.12 L238.49 91.8 Z" fill="#000" fill-opacity="0.45" filter="url(#bl1)" transform="rotate(2.8 288.2 120.5)"/></g>
<g clip-path="url(#rc23)"><path d="M288.2 120.5 L244.03 95 L244.96 92.95 L245.99 90.94 L247.1 88.97 L248.31 87.03 L249.62 85.14 L251.01 83.31 L252.48 81.52 L254.05 79.8 L255.69 78.13 L257.42 76.54 L259.22 75.01 L261.1 73.56 L263.05 72.19 L265.07 70.89 L267.15 69.69 L269.3 68.57 L271.5 67.54 L273.76 66.6 L276.06 65.76 L278.42 65.02 L280.81 64.38 L283.24 63.85 L285.71 63.42 L288.2 63.1 Z" fill="#000" fill-opacity="0.45" filter="url(#bl1)" transform="rotate(2.8 288.2 120.5)"/></g>
<text transform="translate(309.7 84.81) scale(0.75 1)" font-size="4.51" fill="#fff" fill-opacity="0.8" text-anchor="middle" font-weight="normal" textLength="6.93" lengthAdjust="spacing">02</text>
<text transform="translate(331.2 122.05) scale(0.75 1)" font-size="4.51" fill="#fff" fill-opacity="0.8" text-anchor="middle" font-weight="normal" textLength="6.93" lengthAdjust="spacing">03</text>
<text transform="translate(309.7 159.29) scale(0.75 1)" font-size="4.51" fill="#fff" fill-opacity="0.8" text-anchor="middle" font-weight="normal" textLength="6.93" lengthAdjust="spacing">04</text>
<text transform="translate(266.7 159.29) scale(0.75 1)" font-size="4.51" fill="#fff" fill-opacity="0.8" text-anchor="middle" font-weight="normal" textLength="6.93" lengthAdjust="spacing">05</text>
<text transform="translate(245.2 122.05) scale(0.75 1)" font-size="4.51" fill="#fff" fill-opacity="0.8" text-anchor="middle" font-weight="normal" textLength="6.93" lengthAdjust="spacing">06</text>
<text transform="translate(266.7 84.81) scale(0.75 1)" font-size="4.51" fill="#fff" fill-opacity="0.8" text-anchor="middle" font-weight="normal" textLength="6.93" lengthAdjust="spacing">01</text>
<circle cx="288.2" cy="119" r="19.8" fill="url(#wg)" filter="url(#sh2)"/>
<g transform="translate(288.2 116.8) scale(1)" fill="#111"><rect x="-4.4" y="-4.1" width="0.9" height="8.2"/><rect x="-4.4" y="3.2" width="8.8" height="0.9"/><rect x="-2.7" y="-1.5" width="1.2" height="4.8"/><rect x="-0.6" y="-4.1" width="1.2" height="7.3"/><rect x="1.5" y="-1" width="1.2" height="4.3"/><rect x="2.8" y="0.4" width="1.6" height="2.9"/></g>
<text transform="translate(288.2 126.8) scale(0.6 1)" font-size="3.78" fill="#1a1a1a" text-anchor="middle" font-weight="bold" textLength="50" lengthAdjust="spacing">LOREM IPSUM</text>
<text transform="translate(236.5 73.1) scale(0.6 1)" font-size="4.65" fill="#333" text-anchor="start" font-weight="bold" textLength="23.83" lengthAdjust="spacing">37.4%</text>
<text transform="translate(306 183.7) scale(0.6 1)" font-size="4.65" fill="#333" text-anchor="start" font-weight="bold" textLength="29.17" lengthAdjust="spacing">20.345</text>
<g transform="translate(315.2 62.9) scale(1)"><rect x="-3.4" y="-3.4" width="6.8" height="6.8" fill="#fff" stroke="#8a8a8a" stroke-width="0.75"/><path d="M-3.75 -3.4 H3.75 M-3.75 3.4 H3.75" stroke="#2e2e2e" stroke-width="0.8"/><path d="M-1.5 -1.0 V2.3 M0.3 0.8 V2.3 M1.9 -1.6 V2.3" stroke="#333" stroke-width="0.85" fill="none"/></g>
<g transform="translate(259.9 178.8) scale(1)"><path d="M-1.9 -3.7 H1.9" stroke="#2a2a2a" stroke-width="0.9"/><path d="M-1.0 -3.4 V-1.9 L-3.5 3.7 H3.5 L1.0 -1.9 V-3.4" stroke="#2a2a2a" stroke-width="0.7" fill="none" stroke-linejoin="round"/><path d="M-2.5 1.6 H2.5 L3.6 3.95 H-3.6 Z" fill="#2a2a2a"/></g></svg>
<svg class="s" style="left:388px;top:556px" width="384" height="216" viewBox="0 0 384 216"><text transform="translate(191.7 32) scale(0.47 1)" font-size="10.17" fill="#1e1e1e" text-anchor="middle" font-weight="normal" textLength="255.32" lengthAdjust="spacing" stroke="#1e1e1e" stroke-width="0.22">INFOGRAPHIC DESIGN ELEMENTS</text>
<rect x="164" y="41" width="56" height="1" fill="#7a7a7a"/>
<text transform="translate(223.5 73.05) scale(0.62 1)" font-size="5.52" fill="#222" text-anchor="start" font-weight="normal" textLength="78.71" lengthAdjust="spacing" stroke="#222" stroke-width="0.1">YOUR TITLE HERE</text>
<text transform="translate(223.5 82.25) scale(0.6 1)" font-size="3.63" fill="#222" text-anchor="start" font-weight="bold" textLength="114.67" lengthAdjust="spacing">LOREM IPSUM DOLOR SIT AMET</text>
<text transform="translate(223.5 88.05) scale(0.6 1)" font-size="3.63" fill="#222" text-anchor="start" font-weight="bold" textLength="147.33" lengthAdjust="spacing">CONSECTETUR ADIPISCING ELIT SED DO</text>
<text transform="translate(223.5 93.85) scale(0.6 1)" font-size="3.63" fill="#222" text-anchor="start" font-weight="bold" textLength="158.83" lengthAdjust="spacing">EIUSMOD TEMPOR LOREM IPSUM DOLOR SIT</text>
<text transform="translate(223.5 99.65) scale(0.6 1)" font-size="3.63" fill="#222" text-anchor="start" font-weight="bold" textLength="157.17" lengthAdjust="spacing">AMET CONSECTETUR ADIPISCING ELIT SED</text>
<text transform="translate(223.5 105.45) scale(0.6 1)" font-size="3.63" fill="#222" text-anchor="start" font-weight="bold" textLength="75.17" lengthAdjust="spacing">DO EIUSMOD TEMPOR</text>
<circle cx="231.4" cy="127" r="9.6" fill="none" stroke="#2e2e2e" stroke-width="0.9"/>
<text transform="translate(231.4 129.3) scale(0.75 1)" font-size="6.69" fill="#333" text-anchor="middle" font-weight="normal" textLength="8.8" lengthAdjust="spacing">01</text>
<text transform="translate(231.4 148.2) scale(0.6 1)" font-size="4.65" fill="#222" text-anchor="middle" font-weight="normal" textLength="25.33" lengthAdjust="spacing" stroke="#222" stroke-width="0.15">LOREM</text>
<circle cx="257.65" cy="127" r="9.6" fill="none" stroke="#2e2e2e" stroke-width="0.9"/>
<text transform="translate(257.65 129.3) scale(0.75 1)" font-size="6.69" fill="#333" text-anchor="middle" font-weight="normal" textLength="8.8" lengthAdjust="spacing">02</text>
<text transform="translate(257.65 148.2) scale(0.6 1)" font-size="4.65" fill="#222" text-anchor="middle" font-weight="normal" textLength="24.17" lengthAdjust="spacing" stroke="#222" stroke-width="0.15">IPSUM</text>
<circle cx="283.9" cy="127" r="9.6" fill="none" stroke="#2e2e2e" stroke-width="0.9"/>
<text transform="translate(283.9 129.3) scale(0.75 1)" font-size="6.69" fill="#333" text-anchor="middle" font-weight="normal" textLength="8.8" lengthAdjust="spacing">03</text>
<text transform="translate(283.9 148.2) scale(0.6 1)" font-size="4.65" fill="#222" text-anchor="middle" font-weight="normal" textLength="25.83" lengthAdjust="spacing" stroke="#222" stroke-width="0.15">DOLOR</text>
<circle cx="310.15" cy="127" r="9.6" fill="none" stroke="#2e2e2e" stroke-width="0.9"/>
<text transform="translate(310.15 129.3) scale(0.75 1)" font-size="6.69" fill="#333" text-anchor="middle" font-weight="normal" textLength="8.8" lengthAdjust="spacing">04</text>
<text transform="translate(310.15 148.2) scale(0.6 1)" font-size="4.65" fill="#222" text-anchor="middle" font-weight="normal" textLength="20.83" lengthAdjust="spacing" stroke="#222" stroke-width="0.15">AMET</text>
<circle cx="336.4" cy="127" r="9.6" fill="none" stroke="#2e2e2e" stroke-width="0.9"/>
<text transform="translate(336.4 129.3) scale(0.75 1)" font-size="6.69" fill="#333" text-anchor="middle" font-weight="normal" textLength="8.8" lengthAdjust="spacing">05</text>
<text transform="translate(336.4 148.2) scale(0.6 1)" font-size="4.65" fill="#222" text-anchor="middle" font-weight="normal" textLength="28.33" lengthAdjust="spacing" stroke="#222" stroke-width="0.15">DESIGN</text>
<rect x="221.8" y="162.3" width="41.4" height="12" rx="6" fill="#a5bc2c" stroke="#97ab26" stroke-width="0.6"/>
<text transform="translate(241.7 169.9) scale(0.6 1)" font-size="4.65" fill="#f3fb8c" text-anchor="middle" font-weight="bold" textLength="52.5" lengthAdjust="spacing">LOREM IPSUM</text>
<path d="M64.7 57.7 L76 67 L76 86.7 L64.7 79.5 Z" fill="#efefef"/>
<path d="M42.9 79.5 L64.7 79.5 L76 86.7 L72 86.7 Z" fill="#dedee2"/>
<path d="M76 86.7 L147.2 86.7 L173.6 70.7" fill="none" stroke="#c4c4c4" stroke-width="3.2" transform="translate(0 0.9)" filter="url(#blur2)"/>
<path d="M76 67 L172.6 67 L172.6 71.7 L147.2 86.7 L76 86.7 Z" fill="#fff"/>
<rect x="42.9" y="57.7" width="21.8" height="21.8" fill="#a8b925"/>
<text transform="translate(53.8 69.85) scale(0.75 1)" font-size="3.63" fill="#fff" fill-opacity="0.8" text-anchor="middle" font-weight="normal" textLength="5.33" lengthAdjust="spacing">01</text>
<g transform="translate(135.8 76.2) scale(0.87)"><rect x="-3.4" y="-3.4" width="6.8" height="6.8" fill="#fff" stroke="#8a8a8a" stroke-width="0.75"/><path d="M-3.75 -3.4 H3.75 M-3.75 3.4 H3.75" stroke="#2e2e2e" stroke-width="0.8"/><path d="M-1.5 -1.0 V2.3 M0.3 0.8 V2.3 M1.9 -1.6 V2.3" stroke="#333" stroke-width="0.85" fill="none"/></g>
<path d="M64.7 83.8 L76 89 L76 108 L64.7 105.6 Z" fill="#efefef"/>
<path d="M42.9 105.6 L64.7 105.6 L76 108 L72 108 Z" fill="#dedee2"/>
<path d="M76 108 L147.2 108 L173.6 96.1" fill="none" stroke="#c4c4c4" stroke-width="3.2" transform="translate(0 0.9)" filter="url(#blur2)"/>
<path d="M76 89 L172.6 89 L172.6 97.1 L147.2 108 L76 108 Z" fill="#fff"/>
<rect x="42.9" y="83.8" width="21.8" height="21.8" fill="#f79600"/>
<text transform="translate(53.8 95.95) scale(0.75 1)" font-size="3.63" fill="#fff" fill-opacity="0.8" text-anchor="middle" font-weight="normal" textLength="5.33" lengthAdjust="spacing">02</text>
<text transform="translate(139 99.75) scale(0.6 1)" font-size="4.22" fill="#111" text-anchor="end" font-weight="bold" textLength="24.17" lengthAdjust="spacing">37.4%</text>
<path d="M64.7 109.9 L76 111 L76 130.6 L64.7 131.7 Z" fill="#efefef"/>
<path d="M76 130.6 L147.2 130.6 L173.6 122.4" fill="none" stroke="#c4c4c4" stroke-width="3.2" transform="translate(0 0.9)" filter="url(#blur2)"/>
<path d="M76 111 L172.6 111 L172.6 123.4 L147.2 130.6 L76 130.6 Z" fill="#fff"/>
<rect x="42.9" y="109.9" width="21.8" height="21.8" fill="#858585"/>
<text transform="translate(53.8 122.05) scale(0.75 1)" font-size="3.63" fill="#fff" fill-opacity="0.8" text-anchor="middle" font-weight="normal" textLength="5.33" lengthAdjust="spacing">03</text>
<text transform="translate(139.4 121.55) scale(0.6 1)" font-size="4.22" fill="#111" text-anchor="end" font-weight="bold" textLength="55.67" lengthAdjust="spacing">LOREM IPSUM</text>
<path d="M64.7 136.1 L76 133 L76 152.4 L64.7 157.9 Z" fill="#efefef"/>
<path d="M42.9 136.1 L64.7 136.1 L76 133 L72 133 Z" fill="#dedee2"/>
<path d="M76 152.4 L147.2 152.4 L173.6 148.7" fill="none" stroke="#c4c4c4" stroke-width="3.2" transform="translate(0 0.9)" filter="url(#blur2)"/>
<path d="M76 133 L172.6 133 L172.6 149.7 L147.2 152.4 L76 152.4 Z" fill="#fff"/>
<rect x="42.9" y="136.1" width="21.8" height="21.8" fill="#fec408"/>
<text transform="translate(53.8 148.25) scale(0.75 1)" font-size="3.63" fill="#fff" fill-opacity="0.8" text-anchor="middle" font-weight="normal" textLength="5.33" lengthAdjust="spacing">04</text>
<g transform="translate(135.8 142.4) scale(1)"><path d="M-1.9 -3.7 H1.9" stroke="#2a2a2a" stroke-width="0.9"/><path d="M-1.0 -3.4 V-1.9 L-3.5 3.7 H3.5 L1.0 -1.9 V-3.4" stroke="#2a2a2a" stroke-width="0.7" fill="none" stroke-linejoin="round"/><path d="M-2.5 1.6 H2.5 L3.6 3.95 H-3.6 Z" fill="#2a2a2a"/></g>
<path d="M64.7 162.2 L76 155.5 L76 174.2 L64.7 184 Z" fill="#efefef"/>
<path d="M42.9 162.2 L64.7 162.2 L76 155.5 L72 155.5 Z" fill="#dedee2"/>
<path d="M76 174.2 L172.6 174.2" fill="none" stroke="#c4c4c4" stroke-width="3.2" transform="translate(0 0.9)" filter="url(#blur2)"/>
<path d="M76 155.5 L172.6 155.5 L172.6 174.2 L76 174.2 Z" fill="#fff"/>
<rect x="42.9" y="162.2" width="21.8" height="21.8" fill="#e05524"/>
<text transform="translate(53.8 174.35) scale(0.75 1)" font-size="3.63" fill="#fff" fill-opacity="0.8" text-anchor="middle" font-weight="normal" textLength="5.33" lengthAdjust="spacing">05</text>
<text transform="translate(139.4 166.55) scale(0.6 1)" font-size="4.22" fill="#111" text-anchor="end" font-weight="bold" textLength="28.67" lengthAdjust="spacing">20.345</text></svg>
<svg class="s" style="left:776px;top:556px" width="384" height="216" viewBox="0 0 384 216"><text transform="translate(191.7 32) scale(0.47 1)" font-size="10.17" fill="#1e1e1e" text-anchor="middle" font-weight="normal" textLength="255.32" lengthAdjust="spacing" stroke="#1e1e1e" stroke-width="0.22">INFOGRAPHIC DESIGN ELEMENTS</text>
<rect x="164" y="41" width="56" height="1" fill="#7a7a7a"/>
<text transform="translate(56.1 71.85) scale(0.62 1)" font-size="5.52" fill="#222" text-anchor="start" font-weight="normal" textLength="78.71" lengthAdjust="spacing" stroke="#222" stroke-width="0.1">YOUR TITLE HERE</text>
<text transform="translate(56.1 81.05) scale(0.6 1)" font-size="3.63" fill="#222" text-anchor="start" font-weight="bold" textLength="114.67" lengthAdjust="spacing">LOREM IPSUM DOLOR SIT AMET</text>
<text transform="translate(56.1 86.85) scale(0.6 1)" font-size="3.63" fill="#222" text-anchor="start" font-weight="bold" textLength="147.33" lengthAdjust="spacing">CONSECTETUR ADIPISCING ELIT SED DO</text>
<text transform="translate(56.1 92.65) scale(0.6 1)" font-size="3.63" fill="#222" text-anchor="start" font-weight="bold" textLength="158.83" lengthAdjust="spacing">EIUSMOD TEMPOR LOREM IPSUM DOLOR SIT</text>
<text transform="translate(56.1 98.45) scale(0.6 1)" font-size="3.63" fill="#222" text-anchor="start" font-weight="bold" textLength="157.17" lengthAdjust="spacing">AMET CONSECTETUR ADIPISCING ELIT SED</text>
<text transform="translate(56.1 104.25) scale(0.6 1)" font-size="3.63" fill="#222" text-anchor="start" font-weight="bold" textLength="75.17" lengthAdjust="spacing">DO EIUSMOD TEMPOR</text>
<circle cx="64" cy="125.8" r="9.6" fill="none" stroke="#2e2e2e" stroke-width="0.9"/>
<text transform="translate(64 128.1) scale(0.75 1)" font-size="6.69" fill="#333" text-anchor="middle" font-weight="normal" textLength="8.8" lengthAdjust="spacing">01</text>
<text transform="translate(64 147) scale(0.6 1)" font-size="4.65" fill="#222" text-anchor="middle" font-weight="normal" textLength="25.33" lengthAdjust="spacing" stroke="#222" stroke-width="0.15">LOREM</text>
<circle cx="90.25" cy="125.8" r="9.6" fill="none" stroke="#2e2e2e" stroke-width="0.9"/>
<text transform="translate(90.25 128.1) scale(0.75 1)" font-size="6.69" fill="#333" text-anchor="middle" font-weight="normal" textLength="8.8" lengthAdjust="spacing">02</text>
<text transform="translate(90.25 147) scale(0.6 1)" font-size="4.65" fill="#222" text-anchor="middle" font-weight="normal" textLength="24.17" lengthAdjust="spacing" stroke="#222" stroke-width="0.15">IPSUM</text>
<circle cx="116.5" cy="125.8" r="9.6" fill="none" stroke="#2e2e2e" stroke-width="0.9"/>
<text transform="translate(116.5 128.1) scale(0.75 1)" font-size="6.69" fill="#333" text-anchor="middle" font-weight="normal" textLength="8.8" lengthAdjust="spacing">03</text>
<text transform="translate(116.5 147) scale(0.6 1)" font-size="4.65" fill="#222" text-anchor="middle" font-weight="normal" textLength="25.83" lengthAdjust="spacing" stroke="#222" stroke-width="0.15">DOLOR</text>
<circle cx="142.75" cy="125.8" r="9.6" fill="none" stroke="#2e2e2e" stroke-width="0.9"/>
<text transform="translate(142.75 128.1) scale(0.75 1)" font-size="6.69" fill="#333" text-anchor="middle" font-weight="normal" textLength="8.8" lengthAdjust="spacing">04</text>
<text transform="translate(142.75 147) scale(0.6 1)" font-size="4.65" fill="#222" text-anchor="middle" font-weight="normal" textLength="20.83" lengthAdjust="spacing" stroke="#222" stroke-width="0.15">AMET</text>
<rect x="54.4" y="161.1" width="41.4" height="12" rx="6" fill="#a5bc2c" stroke="#97ab26" stroke-width="0.6"/>
<text transform="translate(74.3 168.7) scale(0.6 1)" font-size="4.65" fill="#f3fb8c" text-anchor="middle" font-weight="bold" textLength="52.5" lengthAdjust="spacing">LOREM IPSUM</text>
<g filter="url(#sh4)">
<path d="M226.3 81.75 L235 73 L313.8 73 L313.8 90.5 L235 90.5 Z" fill="#3d8ab9"/>
<path d="M226.3 101.4 L235 91.9 L313.8 91.9 L313.8 110.9 L235 110.9 Z" fill="#a8b925"/>
<path d="M226.3 120.85 L235 112.1 L313.8 112.1 L313.8 129.6 L235 129.6 Z" fill="#f79600"/>
<path d="M226.3 140.25 L235 131.1 L313.8 131.1 L313.8 149.4 L235 149.4 Z" fill="#fec408"/>
</g>
<text transform="translate(237.9 83.25) scale(0.6 1)" font-size="4.36" fill="#000" fill-opacity="0.82" text-anchor="start" font-weight="bold" textLength="50.17" lengthAdjust="spacing">IPSUM DOLOR</text>
<text transform="translate(305.6 83.25) scale(0.75 1)" font-size="4.36" fill="#000" fill-opacity="0.82" text-anchor="middle" font-weight="bold" textLength="6.4" lengthAdjust="spacing">04</text>
<text transform="translate(237.9 102.9) scale(0.6 1)" font-size="4.36" fill="#000" fill-opacity="0.82" text-anchor="start" font-weight="bold" textLength="20.83" lengthAdjust="spacing">IPSUM</text>
<text transform="translate(305.6 102.9) scale(0.75 1)" font-size="4.36" fill="#000" fill-opacity="0.82" text-anchor="middle" font-weight="bold" textLength="6.4" lengthAdjust="spacing">03</text>
<text transform="translate(237.9 122.35) scale(0.6 1)" font-size="4.36" fill="#000" fill-opacity="0.82" text-anchor="start" font-weight="bold" textLength="50.83" lengthAdjust="spacing">LOREM IPSUM</text>
<text transform="translate(305.6 122.35) scale(0.75 1)" font-size="4.36" fill="#000" fill-opacity="0.82" text-anchor="middle" font-weight="bold" textLength="6.4" lengthAdjust="spacing">02</text>
<text transform="translate(237.9 141.75) scale(0.6 1)" font-size="4.36" fill="#000" fill-opacity="0.82" text-anchor="start" font-weight="bold" textLength="64.17" lengthAdjust="spacing">YOUR TEXT HERE</text>
<text transform="translate(305.6 141.75) scale(0.75 1)" font-size="4.36" fill="#000" fill-opacity="0.82" text-anchor="middle" font-weight="bold" textLength="6.4" lengthAdjust="spacing">01</text>
<path d="M312 73 C 288 74, 278 92, 282.5 108 C 286 120, 296.5 132, 296.7 150" stroke="#fff" stroke-width="2.1" fill="none"/>
<clipPath id="bulbclip"><path d="M316.4 72.6 C 328 72.6, 340 80, 345 89 C 348.5 96, 347 108, 342 117 C 337 125, 331 132, 330.6 138 L 330.6 148.5 L 316.4 148.5 Z"/></clipPath>
<path d="M316.4 72.6 C 328 72.6, 340 80, 345 89 C 348.5 96, 347 108, 342 117 C 337 125, 331 132, 330.6 138 L 330.6 148.5 L 316.4 148.5 Z" fill="#fff"/>
<g clip-path="url(#bulbclip)" stroke="#1c1c1c" stroke-width="0.6" fill="none">
<circle cx="330.33" cy="115.1" r="0.92" fill="#1c1c1c"/>
<circle cx="332.16" cy="117.23" r="1.32"/>
<circle cx="336.19" cy="133.06" r="1.02"/>
<path d="M318.39 134.34 q1.39 0.46 3.81 1.03"/>
<circle cx="335.71" cy="84.13" r="1.34"/>
<circle cx="317.37" cy="86.65" r="0.64"/>
<rect x="330.71" y="105.92" width="1.73" height="1.95"/>
<path d="M331.89 123.01 q1.49 1.02 -0.7 3.93"/>
<circle cx="338.76" cy="96.28" r="1"/>
<path d="M317.72 131 q1.37 1.04 1.3 -1.88"/>
<circle cx="315.42" cy="88.15" r="0.92" fill="#1c1c1c"/>
<circle cx="347.75" cy="102.6" r="1.48"/>
<circle cx="341.09" cy="92.77" r="1.07"/>
<circle cx="347.21" cy="130.37" r="0.94"/>
<rect x="318.73" y="76.61" width="1.12" height="1.81"/>
<rect x="330.17" y="86.68" width="1.04" height="1.96"/>
<circle cx="319.24" cy="104.4" r="0.98"/>
<path d="M347.44 133.86 q-0.32 1.06 1.34 -1.19"/>
<circle cx="336.58" cy="79.73" r="0.69" fill="#1c1c1c"/>
<path d="M323.92 131.5 q-1.23 0.25 -0.4 1.35"/>
<path d="M323.42 118.3 q-0.05 0.22 -3.72 1.13"/>
<circle cx="344" cy="86.08" r="1.87"/>
<circle cx="342.39" cy="91.21" r="1.64"/>
<circle cx="346.43" cy="87.14" r="1.29" fill="#1c1c1c"/>
<circle cx="335.32" cy="104.45" r="0.65"/>
<rect x="347.17" y="90.36" width="1.26" height="2.28"/>
<circle cx="335.08" cy="94.59" r="1.61"/>
<path d="M317.67 89.59 q-0.66 1.25 1.75 -2.34"/>
<circle cx="322.13" cy="73.28" r="1.22"/>
<path d="M317.4 85.57 q-0.41 1.17 -1.41 -0.68"/>
<path d="M347.76 122.58 q-1.39 -1.45 -1.38 -0.8"/>
<circle cx="345.44" cy="125.97" r="0.52" fill="#1c1c1c"/>
<rect x="336.39" y="109.13" width="1.37" height="2.6"/>
<rect x="317.88" y="114.05" width="2.42" height="2.13"/>
<circle cx="338.62" cy="133.08" r="0.82" fill="#1c1c1c"/>
<circle cx="338.01" cy="141.36" r="0.88" fill="#1c1c1c"/>
<path d="M341.49 138.49 q0.25 0.33 -1.61 -1.6"/>
<circle cx="318.05" cy="121.23" r="1.29" fill="#1c1c1c"/>
<rect x="339.43" y="101.91" width="1.85" height="1.59"/>
<rect x="343.07" y="78.45" width="0.85" height="1.88"/>
<path d="M331.27 89.73 q1.26 -0.73 -2.92 0.06"/>
<path d="M315.77 95.18 q1.22 0.48 0.49 1.6"/>
<path d="M329.98 140.66 q-0.21 0.92 -0.89 -1.51"/>
<path d="M345.57 139.78 q-1.09 -0.01 -1.81 -1.04"/>
<rect x="343.02" y="137.35" width="2.51" height="1.3"/>
<circle cx="320.98" cy="106.7" r="0.9"/>
<path d="M329.06 120.18 q1.45 -0.14 -1.41 3.26"/>
<circle cx="317.86" cy="74.42" r="0.54" fill="#1c1c1c"/>
<path d="M338.78 115.93 q-1.09 -0.14 0.32 -1.21"/>
<circle cx="316.22" cy="135.88" r="0.8"/>
<path d="M316.95 120.45 q0.92 1.38 -2.08 -2.21"/>
<path d="M337.99 87.35 q-0.08 0.64 0.53 1.11"/>
<path d="M321.31 92.97 q0.34 0.77 -0.87 -2.51"/>
<circle cx="328.39" cy="132.98" r="0.58" fill="#1c1c1c"/>
<circle cx="346.18" cy="127.62" r="1.23"/>
<path d="M336.04 142.07 q0.89 1.33 -3.33 -1.53"/>
<circle cx="330.7" cy="122.15" r="1.61"/>
<rect x="342.41" y="121.4" width="1.18" height="2.42"/>
<path d="M347.76 147.26 q1.23 1.07 0.53 -2.03"/>
<path d="M326.9 78.37 q-0.04 -1.41 -3.19 -1.04"/>
<rect x="342.1" y="76.93" width="1.11" height="1.4"/>
<circle cx="341.4" cy="82.82" r="1.32"/>
<path d="M339.28 136.68 q1.35 -1.24 2.43 -0.87"/>
<circle cx="322.71" cy="112.55" r="1.62"/>
<rect x="336.48" y="112.25" width="1.81" height="1.36"/>
<circle cx="327.98" cy="137.09" r="0.69" fill="#1c1c1c"/>
<path d="M343.48 146.57 q0.11 0.01 -1.58 -0.78"/>
<circle cx="335.37" cy="74.14" r="0.96" fill="#1c1c1c"/>
<path d="M328.62 133.68 q-1.3 0.12 -3.13 0.18"/>
<circle cx="329.05" cy="145.68" r="0.74" fill="#1c1c1c"/>
<path d="M331.01 81.78 q-0.07 -0.55 1.48 -3.41"/>
<circle cx="321.72" cy="119.58" r="0.62" fill="#1c1c1c"/>
<circle cx="341.12" cy="73.75" r="0.92"/>
<path d="M338.07 96.8 q0.69 -1.13 -1.09 -1.02"/>
<circle cx="332.25" cy="91.29" r="1.34"/>
<path d="M329.81 100.93 q-0.89 0.39 -1.62 -0.3"/>
<circle cx="336.47" cy="112.78" r="1.05" fill="#1c1c1c"/>
<rect x="343.67" y="89.91" width="2.26" height="2.42"/>
<circle cx="325.82" cy="96.25" r="0.7" fill="#1c1c1c"/>
<circle cx="348.35" cy="140.34" r="0.94"/>
<circle cx="339.38" cy="91.98" r="1.77"/>
<circle cx="329.31" cy="132.83" r="1.16"/>
<circle cx="338.01" cy="73.37" r="1.56"/>
<circle cx="345.48" cy="146.57" r="1.31"/>
<path d="M340.42 110.71 q-1.18 -1.39 0.52 1.3"/>
<path d="M333.61 111.64 q-0.89 1.02 1.04 1.37"/>
<circle cx="348.08" cy="143.37" r="0.69"/>
<rect x="346.8" y="107.58" width="1.39" height="1.64"/>
<path d="M332.4 105.12 q1.03 -0.96 3.15 0.26"/>
<path d="M330.38 128.93 q0.04 -1.45 0.56 1.56"/>
<rect x="344.88" y="133.73" width="2.35" height="1.93"/>
<path d="M328.75 118.17 q-0.73 1.23 3.43 -0.39"/>
<rect x="339.97" y="131.91" width="1.53" height="2.41"/>
<rect x="344.43" y="125.5" width="2.18" height="1.53"/>
<path d="M339.25 77.43 q-0.43 0.42 -1.21 0.24"/>
<circle cx="335.99" cy="89.87" r="1.1" fill="#1c1c1c"/>
<path d="M326.55 122.8 q1.5 0.43 -2.24 -0.47"/>
<circle cx="338.54" cy="130.65" r="0.52" fill="#1c1c1c"/>
<circle cx="335.71" cy="128.89" r="1.16"/>
<path d="M317.07 87.05 q1.22 0.15 1.55 1.1"/>
<path d="M332.16 146.47 q0.93 -1.27 2.98 -0.1"/>
<circle cx="335.12" cy="130.46" r="1.9"/>
<circle cx="320.68" cy="108.33" r="1.29"/>
<circle cx="335.57" cy="76.51" r="0.88" fill="#1c1c1c"/>
<path d="M332.78 118.03 q0.18 -0.65 -0.67 2.96"/>
<circle cx="339.05" cy="94.8" r="0.94"/>
<rect x="316.81" y="84.06" width="1.5" height="2.42"/>
<circle cx="340.1" cy="75.86" r="1.35" fill="#1c1c1c"/>
<path d="M317.83 141.73 q-0.77 0.07 -3.89 0.56"/>
<path d="M346.33 127.65 q0.31 -1.15 3.45 -0.47"/>
<circle cx="336" cy="107.09" r="0.67"/>
<path d="M332.83 81.57 q-0.71 0.25 -1.23 -2.15"/>
<path d="M329.24 131.9 q0.7 -0.78 3.87 -0.07"/>
<rect x="319.16" y="140.74" width="1.92" height="1.45"/>
<path d="M324.36 124.75 q0.76 -0.93 -2.5 -1.61"/>
<circle cx="323.62" cy="147.44" r="1.29" fill="#1c1c1c"/>
<circle cx="316.7" cy="76.68" r="1.2"/>
<path d="M335.97 79.89 q0.53 0.15 1.3 0.63"/>
<path d="M336.23 100.74 q0.73 1.02 0.53 2.1"/>
<rect x="317.85" y="81.22" width="1.92" height="2.18"/>
<circle cx="322.43" cy="104.68" r="1.73"/>
<circle cx="327.58" cy="122.33" r="0.79" fill="#1c1c1c"/>
<circle cx="333.5" cy="129.45" r="0.88" fill="#1c1c1c"/>
<circle cx="327.59" cy="79.47" r="0.57" fill="#1c1c1c"/>
<path d="M318.14 115.44 q0.83 -1.27 -0.81 -1.87"/>
<circle cx="322.44" cy="122.98" r="1.03"/>
<circle cx="339.32" cy="125.44" r="0.8"/>
<path d="M327.21 127.9 q0.21 1.26 2.36 2.14"/>
<path d="M346.42 142.33 q-0.55 -0.3 0.67 -1.94"/>
<circle cx="346.24" cy="140.89" r="1.11"/>
<path d="M327.46 99.98 q0.19 0.89 -1.33 1.13"/>
<path d="M333.24 136.4 q1.14 -0.66 1.48 2.98"/>
<path d="M316.13 111.7 q0.45 0.91 -3.56 -1.6"/>
<rect x="317.51" y="114.1" width="0.95" height="0.95"/>
<circle cx="339.72" cy="141.23" r="1.49"/>
<path d="M320.15 129.43 q0.8 0.06 0.05 1.82"/>
<path d="M340.64 102.37 q-0.02 0.11 3.02 -0.62"/>
<circle cx="339.19" cy="126.53" r="0.87" fill="#1c1c1c"/>
<circle cx="342.67" cy="123.34" r="1.23" fill="#1c1c1c"/>
<circle cx="342.92" cy="140.43" r="1.08" fill="#1c1c1c"/>
<rect x="332.69" y="126.68" width="1.56" height="1.56"/>
<circle cx="320.22" cy="129.07" r="0.84" fill="#1c1c1c"/>
<path d="M320.93 87.74 q-1.32 -0.57 -1.02 3.78"/>
<rect x="319.19" y="121.89" width="1.12" height="0.91"/>
<circle cx="330.54" cy="116.97" r="0.53" fill="#1c1c1c"/>
<circle cx="318.99" cy="86.21" r="0.93"/>
<circle cx="339.07" cy="117.8" r="0.86"/>
<rect x="324.68" y="85.28" width="1.36" height="1.79"/>
<circle cx="342.37" cy="108.92" r="1.84"/>
<path d="M345.57 98.34 q-0.84 -1.35 2.46 -0.69"/>
<path d="M346.67 133.71 q-0.68 1.47 -2.61 -0.45"/>
<circle cx="337.1" cy="90.3" r="1.26"/>
<rect x="327.66" y="133.35" width="1.89" height="1.08"/>
<circle cx="320.58" cy="96.78" r="1.82"/>
<circle cx="332.43" cy="121.05" r="0.74" fill="#1c1c1c"/>
<rect x="333.04" y="83.6" width="0.8" height="2.28"/>
<circle cx="343.32" cy="135.3" r="0.98"/>
<path d="M339.05 79.48 q0.26 1.07 -3.8 0.76"/>
<path d="M325.42 132.78 q0.98 -0.87 1.26 -0.73"/>
<circle cx="333.33" cy="112.48" r="1.76"/>
<circle cx="325.68" cy="95.93" r="1.03"/>
<path d="M330.82 127.07 q-0.32 -0.11 -0.58 -1.38"/>
<path d="M347.31 135.89 q0.63 -0.79 2.25 0.17"/>
<circle cx="334.02" cy="107.27" r="1.99"/>
<path d="M341.78 87.92 q0.12 -0.61 -0.56 2.18"/>
<path d="M326.53 102.2 q0.69 -0.51 -0.07 1.76"/>
<rect x="346.59" y="115.34" width="1.4" height="2.29"/>
<circle cx="318.45" cy="82.84" r="1.55"/>
<path d="M338.77 85.85 q-1.23 -0.82 1.48 -2.45"/>
<path d="M320.58 81.56 q-0.22 0.03 3.39 1.67"/>
<rect x="336.76" y="131.05" width="1.49" height="1.4"/>
<path d="M329 73.19 q0.87 0.48 -1.23 -3.75"/>
<path d="M335.48 73.43 q-1.18 -0.37 -1.65 2.53"/>
<rect x="332.21" y="132.72" width="1.9" height="1.09"/>
<path d="M340.69 141.53 q-1.07 0.64 -1.56 2.08"/>
<rect x="347.96" y="111.73" width="2.3" height="1.15"/>
<circle cx="346.58" cy="120.29" r="0.72"/>
<path d="M323.47 116.39 q-0.42 -0.11 -1.81 3.34"/>
<circle cx="319.49" cy="146.97" r="1.87"/>
<path d="M333.33 115.18 q1.48 0.95 -0.33 3.73"/>
<rect x="335.25" y="81.44" width="1.32" height="2.41"/>
<rect x="323.35" y="116.17" width="1.13" height="1.79"/>
<circle cx="317.92" cy="74.47" r="1.98"/>
<path d="M346.4 122.69 q-0.36 0.28 -1.56 -2.87"/>
<circle cx="341.93" cy="73.26" r="1.26"/>
<path d="M320.12 101.75 q-0.71 0.2 1.23 2.36"/>
<circle cx="326.36" cy="121.41" r="1.54"/>
<path d="M320.18 145.87 q0.37 0.57 -2.31 0.45"/>
<path d="M340.42 129.88 q1.07 -0.27 3.54 -0.13"/>
<circle cx="329.72" cy="115.58" r="0.97" fill="#1c1c1c"/>
<circle cx="332.73" cy="105.28" r="0.79" fill="#1c1c1c"/>
<circle cx="317.2" cy="127.87" r="1.16" fill="#1c1c1c"/>
<path d="M335.12 129.9 q-1.13 -0.16 -1.16 -0.77"/>
<circle cx="331.99" cy="102.55" r="1.57"/>
<path d="M332.77 90.41 q-1.29 1.23 -1.47 1.14"/>
<circle cx="347.29" cy="123.26" r="0.88" fill="#1c1c1c"/>
<rect x="341.97" y="89.08" width="1.82" height="2.43"/>
<circle cx="318.65" cy="133.01" r="1.35"/>
<circle cx="346.78" cy="72.04" r="1.02"/>
<circle cx="326.12" cy="76.82" r="1.23" fill="#1c1c1c"/>
<path d="M328.51 99.45 q1.2 -0.58 1.23 0.37"/>
<circle cx="331.85" cy="143.91" r="0.93" fill="#1c1c1c"/>
<circle cx="322.21" cy="94.74" r="1.31" fill="#1c1c1c"/>
<path d="M321.85 136.52 q1.14 1.49 -1.66 0.29"/>
<circle cx="322.07" cy="120.69" r="1.83"/>
<rect x="317.05" y="80.17" width="1.36" height="2.42"/>
<circle cx="344.1" cy="126.91" r="1.57"/>
<circle cx="346.35" cy="106.28" r="0.91"/>
<circle cx="325.54" cy="126.71" r="0.85"/>
<rect x="323.17" y="123.17" width="1.47" height="1.99"/>
<circle cx="344.59" cy="117.42" r="1.02"/>
<circle cx="345.98" cy="123.36" r="1.5"/>
<path d="M318.37 147.69 q-1.36 0.3 -2.64 -0.47"/>
<rect x="324.79" y="91.32" width="0.96" height="1.31"/>
<circle cx="340.34" cy="90.93" r="1.37"/>
<circle cx="321.55" cy="141.07" r="0.53" fill="#1c1c1c"/>
<path d="M330.63 129.8 q-0.96 0.17 2.34 -1.12"/>
<path d="M336.68 99.69 q0.02 1.04 0.54 -2.59"/>
<circle cx="337.98" cy="112.08" r="0.66" fill="#1c1c1c"/>
<path d="M341.13 84.72 q0.82 0.86 0.23 2.42"/>
<path d="M341.51 90.17 q-0 -1.39 0.51 2.78"/>
<path d="M335.1 127.03 q-1.04 -1.45 1.19 -1.22"/>
<path d="M331.77 105.47 q-1.28 1.22 -0.28 3.42"/>
<rect x="334.17" y="113.83" width="1.23" height="1.06"/>
<path d="M325.66 75.26 q-0.71 0.27 -1.94 -1.84"/>
<circle cx="318.32" cy="135.18" r="0.96"/>
<rect x="320.67" y="125.18" width="2.22" height="0.91"/>
<circle cx="328.95" cy="100.06" r="1.96"/>
<rect x="316.79" y="109.69" width="2.58" height="1.06"/>
<circle cx="330.43" cy="129.36" r="0.94"/>
<path d="M344.77 82.9 q-1.27 -1.4 -0.71 2.28"/>
<rect x="348.27" y="130.77" width="1.21" height="1.26"/>
<path d="M333.61 90.61 q-0.49 1.44 2.02 -0.92"/>
<path d="M335.56 75.05 q-0.47 0.58 -0.81 -1.1"/>
<circle cx="343.93" cy="117.48" r="0.92" fill="#1c1c1c"/>
<path d="M328.37 136.91 q-0.46 -0.95 0.35 -1.77"/>
<circle cx="333.54" cy="84.62" r="0.9"/>
<path d="M330.83 95.76 q1.09 -0.89 3.1 -0.14"/>
<path d="M328.04 77.6 q-1.44 -0.95 -1.28 1.5"/>
<circle cx="324.06" cy="102.26" r="1.14" fill="#1c1c1c"/>
<path d="M317.2 74 V148" stroke-width="1.2"/>
</g>
<path d="M316.4 72.6 C 328 72.6, 340 80, 345 89 C 348.5 96, 347 108, 342 117 C 337 125, 331 132, 330.6 138 L 330.6 148.5 L 316.4 148.5 Z" fill="none" stroke="#555" stroke-width="0.4"/>
<path d="M296.8 149.7 H327.9 V168 C327.9 175 319 179.2 312.4 179.2 C306 179.2 296.8 175 296.8 168 Z" fill="#f8f8f8" filter="url(#sh2)"/>
<rect x="298.3" y="156.4" width="28.1" height="0.7" fill="#e3e3e3"/>
<rect x="298.3" y="161.4" width="28.1" height="0.7" fill="#e3e3e3"/>
<rect x="298.3" y="166.3" width="28.1" height="0.7" fill="#e3e3e3"/>
<rect x="298.3" y="169.4" width="28.1" height="0.7" fill="#e3e3e3"/>
<rect x="313.9" y="149.7" width="14" height="20" fill="#000" fill-opacity="0.025"/></svg>
</body></html>
